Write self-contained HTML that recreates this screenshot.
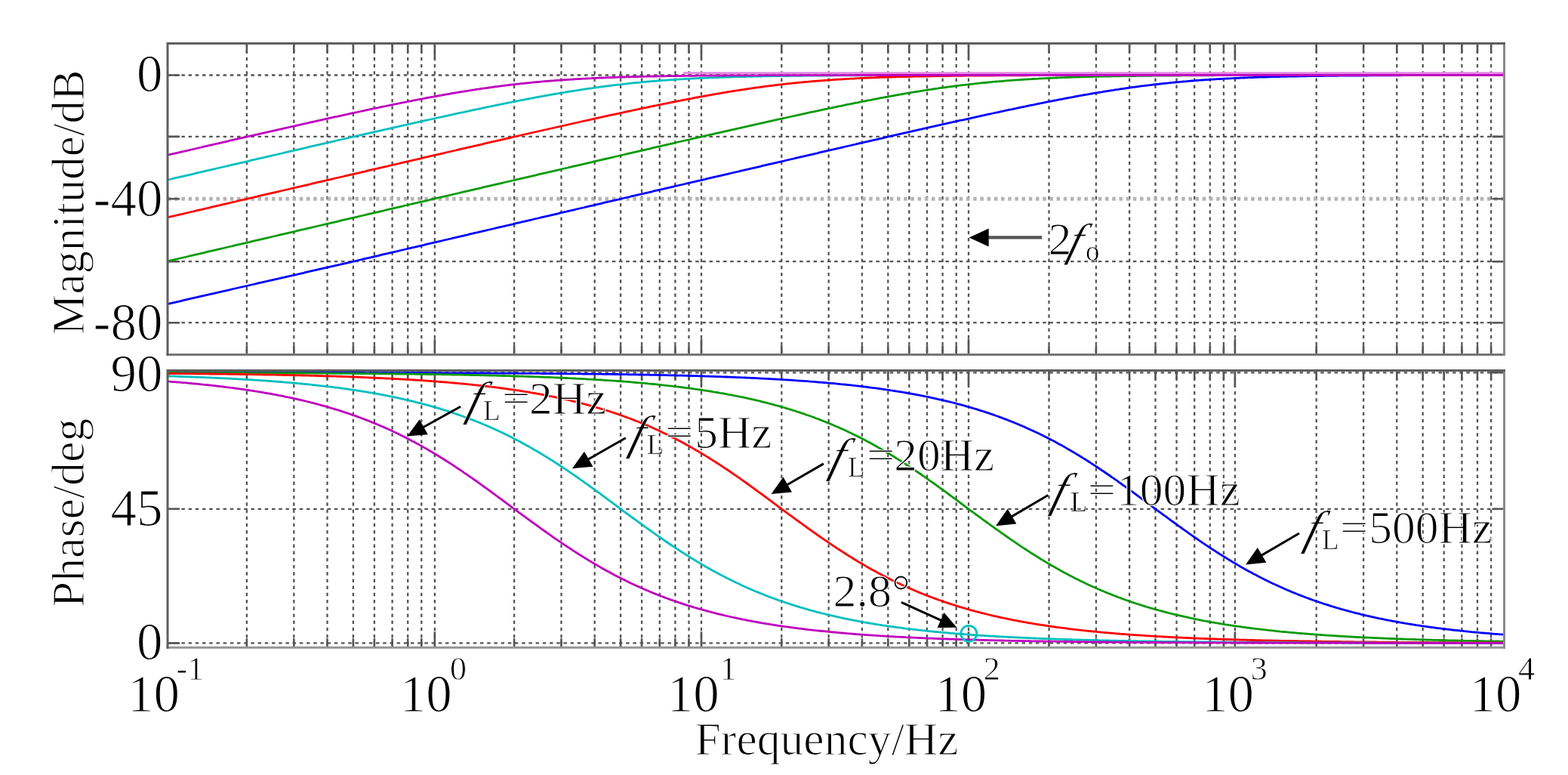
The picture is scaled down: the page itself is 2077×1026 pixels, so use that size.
<!DOCTYPE html><html><head><meta charset="utf-8"><style>html,body{margin:0;padding:0;background:#fff;}svg{display:block}text{font-family:"Liberation Serif","Times New Roman",serif;fill:#000;stroke:#fff;stroke-width:1.2px}</style></head><body>
<svg width="2077" height="1026" viewBox="0 0 2077 1026">
<rect x="0" y="0" width="2077" height="1026" fill="#fff"/>
<path d="M326.9 57.4V469.4 M389.3 57.4V469.4 M433.5 57.4V469.4 M467.9 57.4V469.4 M495.9 57.4V469.4 M519.6 57.4V469.4 M540.2 57.4V469.4 M558.3 57.4V469.4 M575.9 57.4V469.4 M681.1 57.4V469.4 M743.5 57.4V469.4 M787.7 57.4V469.4 M822.1 57.4V469.4 M850.1 57.4V469.4 M873.8 57.4V469.4 M894.4 57.4V469.4 M912.5 57.4V469.4 M929.0 57.4V469.4 M1035.3 57.4V469.4 M1097.7 57.4V469.4 M1141.9 57.4V469.4 M1176.3 57.4V469.4 M1204.3 57.4V469.4 M1228.0 57.4V469.4 M1248.6 57.4V469.4 M1266.7 57.4V469.4 M1283.0 57.4V469.4 M1389.5 57.4V469.4 M1451.9 57.4V469.4 M1496.1 57.4V469.4 M1530.5 57.4V469.4 M1558.5 57.4V469.4 M1582.2 57.4V469.4 M1602.8 57.4V469.4 M1620.9 57.4V469.4 M1635.9 57.4V469.4 M1743.7 57.4V469.4 M1806.1 57.4V469.4 M1850.3 57.4V469.4 M1884.7 57.4V469.4 M1912.7 57.4V469.4 M1936.4 57.4V469.4 M1957.0 57.4V469.4 M1975.1 57.4V469.4 M222.0 99.5H1992.5 M222.0 180.9H1992.5 M222.0 346.2H1992.5 M222.0 427.2H1992.5" stroke="#555" stroke-width="2.3" stroke-dasharray="4.5 4.7" fill="none"/>
<path d="M222.0 263.3H1992.5" stroke="#b4b4b4" stroke-width="5" stroke-dasharray="4.5 4.7" fill="none"/>
<path d="M326.9 57.4v12M326.9 469.4v-12M389.3 57.4v12M389.3 469.4v-12M433.5 57.4v12M433.5 469.4v-12M467.9 57.4v12M467.9 469.4v-12M495.9 57.4v12M495.9 469.4v-12M519.6 57.4v12M519.6 469.4v-12M540.2 57.4v12M540.2 469.4v-12M558.3 57.4v12M558.3 469.4v-12M575.9 57.4v21M575.9 469.4v-21M681.1 57.4v12M681.1 469.4v-12M743.5 57.4v12M743.5 469.4v-12M787.7 57.4v12M787.7 469.4v-12M822.1 57.4v12M822.1 469.4v-12M850.1 57.4v12M850.1 469.4v-12M873.8 57.4v12M873.8 469.4v-12M894.4 57.4v12M894.4 469.4v-12M912.5 57.4v12M912.5 469.4v-12M929.0 57.4v21M929.0 469.4v-21M1035.3 57.4v12M1035.3 469.4v-12M1097.7 57.4v12M1097.7 469.4v-12M1141.9 57.4v12M1141.9 469.4v-12M1176.3 57.4v12M1176.3 469.4v-12M1204.3 57.4v12M1204.3 469.4v-12M1228.0 57.4v12M1228.0 469.4v-12M1248.6 57.4v12M1248.6 469.4v-12M1266.7 57.4v12M1266.7 469.4v-12M1283.0 57.4v21M1283.0 469.4v-21M1389.5 57.4v12M1389.5 469.4v-12M1451.9 57.4v12M1451.9 469.4v-12M1496.1 57.4v12M1496.1 469.4v-12M1530.5 57.4v12M1530.5 469.4v-12M1558.5 57.4v12M1558.5 469.4v-12M1582.2 57.4v12M1582.2 469.4v-12M1602.8 57.4v12M1602.8 469.4v-12M1620.9 57.4v12M1620.9 469.4v-12M1635.9 57.4v21M1635.9 469.4v-21M1743.7 57.4v12M1743.7 469.4v-12M1806.1 57.4v12M1806.1 469.4v-12M1850.3 57.4v12M1850.3 469.4v-12M1884.7 57.4v12M1884.7 469.4v-12M1912.7 57.4v12M1912.7 469.4v-12M1936.4 57.4v12M1936.4 469.4v-12M1957.0 57.4v12M1957.0 469.4v-12M1975.1 57.4v12M1975.1 469.4v-12M222.0 99.5h16M1992.5 99.5h-16M222.0 180.9h16M1992.5 180.9h-16M222.0 263.3h16M1992.5 263.3h-16M222.0 346.2h16M1992.5 346.2h-16M222.0 427.2h16M1992.5 427.2h-16" stroke="#555" stroke-width="2.6" fill="none"/>
<path d="M326.9 490.4V857.2 M389.3 490.4V857.2 M433.5 490.4V857.2 M467.9 490.4V857.2 M495.9 490.4V857.2 M519.6 490.4V857.2 M540.2 490.4V857.2 M558.3 490.4V857.2 M575.9 490.4V857.2 M681.1 490.4V857.2 M743.5 490.4V857.2 M787.7 490.4V857.2 M822.1 490.4V857.2 M850.1 490.4V857.2 M873.8 490.4V857.2 M894.4 490.4V857.2 M912.5 490.4V857.2 M929.0 490.4V857.2 M1035.3 490.4V857.2 M1097.7 490.4V857.2 M1141.9 490.4V857.2 M1176.3 490.4V857.2 M1204.3 490.4V857.2 M1228.0 490.4V857.2 M1248.6 490.4V857.2 M1266.7 490.4V857.2 M1283.0 490.4V857.2 M1389.5 490.4V857.2 M1451.9 490.4V857.2 M1496.1 490.4V857.2 M1530.5 490.4V857.2 M1558.5 490.4V857.2 M1582.2 490.4V857.2 M1602.8 490.4V857.2 M1620.9 490.4V857.2 M1635.9 490.4V857.2 M1743.7 490.4V857.2 M1806.1 490.4V857.2 M1850.3 490.4V857.2 M1884.7 490.4V857.2 M1912.7 490.4V857.2 M1936.4 490.4V857.2 M1957.0 490.4V857.2 M1975.1 490.4V857.2 M222.0 851.4H1992.5 M222.0 673.8H1992.5 M222.0 493.3H1992.5" stroke="#555" stroke-width="2.3" stroke-dasharray="4.5 4.7" fill="none"/>
<path d="M326.9 490.4v12M326.9 857.2v-12M389.3 490.4v12M389.3 857.2v-12M433.5 490.4v12M433.5 857.2v-12M467.9 490.4v12M467.9 857.2v-12M495.9 490.4v12M495.9 857.2v-12M519.6 490.4v12M519.6 857.2v-12M540.2 490.4v12M540.2 857.2v-12M558.3 490.4v12M558.3 857.2v-12M575.9 490.4v21M575.9 857.2v-21M681.1 490.4v12M681.1 857.2v-12M743.5 490.4v12M743.5 857.2v-12M787.7 490.4v12M787.7 857.2v-12M822.1 490.4v12M822.1 857.2v-12M850.1 490.4v12M850.1 857.2v-12M873.8 490.4v12M873.8 857.2v-12M894.4 490.4v12M894.4 857.2v-12M912.5 490.4v12M912.5 857.2v-12M929.0 490.4v21M929.0 857.2v-21M1035.3 490.4v12M1035.3 857.2v-12M1097.7 490.4v12M1097.7 857.2v-12M1141.9 490.4v12M1141.9 857.2v-12M1176.3 490.4v12M1176.3 857.2v-12M1204.3 490.4v12M1204.3 857.2v-12M1228.0 490.4v12M1228.0 857.2v-12M1248.6 490.4v12M1248.6 857.2v-12M1266.7 490.4v12M1266.7 857.2v-12M1283.0 490.4v21M1283.0 857.2v-21M1389.5 490.4v12M1389.5 857.2v-12M1451.9 490.4v12M1451.9 857.2v-12M1496.1 490.4v12M1496.1 857.2v-12M1530.5 490.4v12M1530.5 857.2v-12M1558.5 490.4v12M1558.5 857.2v-12M1582.2 490.4v12M1582.2 857.2v-12M1602.8 490.4v12M1602.8 857.2v-12M1620.9 490.4v12M1620.9 857.2v-12M1635.9 490.4v21M1635.9 857.2v-21M1743.7 490.4v12M1743.7 857.2v-12M1806.1 490.4v12M1806.1 857.2v-12M1850.3 490.4v12M1850.3 857.2v-12M1884.7 490.4v12M1884.7 857.2v-12M1912.7 490.4v12M1912.7 857.2v-12M1936.4 490.4v12M1936.4 857.2v-12M1957.0 490.4v12M1957.0 857.2v-12M1975.1 490.4v12M1975.1 857.2v-12M222.0 851.4h16M1992.5 851.4h-16M222.0 673.8h16M1992.5 673.8h-16M222.0 493.3h16M1992.5 493.3h-16" stroke="#555" stroke-width="2.6" fill="none"/>
<clipPath id="ctop"><rect x="222.0" y="57.4" width="1770.5" height="412.0"/></clipPath>
<clipPath id="cbot"><rect x="222.0" y="490.4" width="1770.5" height="366.80000000000007"/></clipPath>
<path d="M220.3,402.8 222.5,402.3 224.7,401.8 226.9,401.3 229.2,400.8 231.4,400.3 233.6,399.8 235.8,399.3 238.0,398.8 240.2,398.3 242.5,397.7 244.7,397.2 246.9,396.7 249.1,396.2 251.3,395.7 253.5,395.2 255.8,394.7 258.0,394.2 260.2,393.7 262.4,393.2 264.6,392.7 266.8,392.2 269.1,391.7 271.3,391.2 273.5,390.7 275.7,390.1 277.9,389.6 280.1,389.1 282.4,388.6 284.6,388.1 286.8,387.6 289.0,387.1 291.2,386.6 293.4,386.1 295.7,385.6 297.9,385.1 300.1,384.6 302.3,384.1 304.5,383.6 306.7,383.0 309.0,382.5 311.2,382.0 313.4,381.5 315.6,381.0 317.8,380.5 320.0,380.0 322.3,379.5 324.5,379.0 326.7,378.5 328.9,378.0 331.1,377.5 333.3,377.0 335.6,376.5 337.8,376.0 340.0,375.4 342.2,374.9 344.4,374.4 346.6,373.9 348.9,373.4 351.1,372.9 353.3,372.4 355.5,371.9 357.7,371.4 359.9,370.9 362.2,370.4 364.4,369.9 366.6,369.4 368.8,368.9 371.0,368.3 373.2,367.8 375.5,367.3 377.7,366.8 379.9,366.3 382.1,365.8 384.3,365.3 386.5,364.8 388.8,364.3 391.0,363.8 393.2,363.3 395.4,362.8 397.6,362.3 399.8,361.8 402.1,361.3 404.3,360.7 406.5,360.2 408.7,359.7 410.9,359.2 413.1,358.7 415.4,358.2 417.6,357.7 419.8,357.2 422.0,356.7 424.2,356.2 426.4,355.7 428.7,355.2 430.9,354.7 433.1,354.2 435.3,353.6 437.5,353.1 439.7,352.6 442.0,352.1 444.2,351.6 446.4,351.1 448.6,350.6 450.8,350.1 453.0,349.6 455.3,349.1 457.5,348.6 459.7,348.1 461.9,347.6 464.1,347.1 466.3,346.6 468.6,346.0 470.8,345.5 473.0,345.0 475.2,344.5 477.4,344.0 479.6,343.4 481.8,342.9 484.1,342.4 486.3,341.9 488.5,341.4 490.7,340.9 492.9,340.3 495.1,339.8 497.4,339.3 499.6,338.8 501.8,338.3 504.0,337.7 506.2,337.2 508.4,336.7 510.7,336.2 512.9,335.7 515.1,335.1 517.3,334.6 519.5,334.1 521.7,333.6 524.0,333.1 526.2,332.6 528.4,332.0 530.6,331.5 532.8,331.0 535.0,330.5 537.3,330.0 539.5,329.4 541.7,328.9 543.9,328.4 546.1,327.9 548.3,327.4 550.6,326.8 552.8,326.3 555.0,325.8 557.2,325.3 559.4,324.8 561.6,324.3 563.9,323.7 566.1,323.2 568.3,322.7 570.5,322.2 572.7,321.7 574.9,321.1 577.2,320.6 579.4,320.1 581.6,319.6 583.8,319.1 586.0,318.5 588.2,318.0 590.5,317.5 592.7,317.0 594.9,316.5 597.1,316.0 599.3,315.4 601.5,314.9 603.8,314.4 606.0,313.9 608.2,313.4 610.4,312.8 612.6,312.3 614.8,311.8 617.1,311.3 619.3,310.8 621.5,310.2 623.7,309.7 625.9,309.2 628.1,308.7 630.4,308.2 632.6,307.7 634.8,307.1 637.0,306.6 639.2,306.1 641.4,305.6 643.7,305.1 645.9,304.5 648.1,304.0 650.3,303.5 652.5,303.0 654.7,302.5 657.0,301.9 659.2,301.4 661.4,300.9 663.6,300.4 665.8,299.9 668.0,299.4 670.3,298.8 672.5,298.3 674.7,297.8 676.9,297.3 679.1,296.8 681.3,296.2 683.6,295.7 685.8,295.2 688.0,294.7 690.2,294.2 692.4,293.6 694.6,293.1 696.9,292.6 699.1,292.1 701.3,291.6 703.5,291.1 705.7,290.5 707.9,290.0 710.2,289.5 712.4,289.0 714.6,288.5 716.8,287.9 719.0,287.4 721.2,286.9 723.5,286.4 725.7,285.9 727.9,285.3 730.1,284.8 732.3,284.3 734.5,283.8 736.7,283.3 739.0,282.8 741.2,282.2 743.4,281.7 745.6,281.2 747.8,280.7 750.0,280.2 752.3,279.6 754.5,279.1 756.7,278.6 758.9,278.1 761.1,277.6 763.3,277.0 765.6,276.5 767.8,276.0 770.0,275.5 772.2,275.0 774.4,274.5 776.6,273.9 778.9,273.4 781.1,272.9 783.3,272.4 785.5,271.9 787.7,271.3 789.9,270.8 792.2,270.3 794.4,269.8 796.6,269.3 798.8,268.7 801.0,268.2 803.2,267.7 805.5,267.2 807.7,266.7 809.9,266.2 812.1,265.6 814.3,265.1 816.5,264.6 818.8,264.1 821.0,263.6 823.2,263.0 825.4,262.5 827.6,262.0 829.8,261.5 832.1,261.0 834.3,260.5 836.5,259.9 838.7,259.4 840.9,258.9 843.1,258.4 845.4,257.9 847.6,257.4 849.8,256.9 852.0,256.3 854.2,255.8 856.4,255.3 858.7,254.8 860.9,254.3 863.1,253.8 865.3,253.2 867.5,252.7 869.7,252.2 872.0,251.7 874.2,251.2 876.4,250.7 878.6,250.2 880.8,249.6 883.0,249.1 885.3,248.6 887.5,248.1 889.7,247.6 891.9,247.1 894.1,246.5 896.3,246.0 898.6,245.5 900.8,245.0 903.0,244.5 905.2,244.0 907.4,243.5 909.6,242.9 911.9,242.4 914.1,241.9 916.3,241.4 918.5,240.9 920.7,240.4 922.9,239.8 925.2,239.3 927.4,238.8 929.6,238.3 931.8,237.8 934.0,237.3 936.2,236.7 938.5,236.2 940.7,235.7 942.9,235.2 945.1,234.7 947.3,234.2 949.5,233.7 951.8,233.1 954.0,232.6 956.2,232.1 958.4,231.6 960.6,231.1 962.8,230.6 965.1,230.1 967.3,229.5 969.5,229.0 971.7,228.5 973.9,228.0 976.1,227.5 978.4,227.0 980.6,226.4 982.8,225.9 985.0,225.4 987.2,224.9 989.4,224.4 991.6,223.9 993.9,223.4 996.1,222.8 998.3,222.3 1000.5,221.8 1002.7,221.3 1004.9,220.8 1007.2,220.3 1009.4,219.7 1011.6,219.2 1013.8,218.7 1016.0,218.2 1018.2,217.7 1020.5,217.2 1022.7,216.7 1024.9,216.1 1027.1,215.6 1029.3,215.1 1031.5,214.6 1033.8,214.1 1036.0,213.6 1038.2,213.1 1040.4,212.5 1042.6,212.0 1044.8,211.5 1047.1,211.0 1049.3,210.5 1051.5,210.0 1053.7,209.4 1055.9,208.9 1058.1,208.4 1060.4,207.9 1062.6,207.4 1064.8,206.9 1067.0,206.4 1069.2,205.8 1071.4,205.3 1073.7,204.8 1075.9,204.3 1078.1,203.8 1080.3,203.3 1082.5,202.8 1084.7,202.2 1087.0,201.7 1089.2,201.2 1091.4,200.7 1093.6,200.2 1095.8,199.7 1098.0,199.2 1100.3,198.7 1102.5,198.1 1104.7,197.6 1106.9,197.1 1109.1,196.6 1111.3,196.1 1113.6,195.6 1115.8,195.1 1118.0,194.5 1120.2,194.0 1122.4,193.5 1124.6,193.0 1126.9,192.5 1129.1,192.0 1131.3,191.5 1133.5,191.0 1135.7,190.4 1137.9,189.9 1140.2,189.4 1142.4,188.9 1144.6,188.4 1146.8,187.9 1149.0,187.4 1151.2,186.9 1153.5,186.3 1155.7,185.8 1157.9,185.3 1160.1,184.8 1162.3,184.3 1164.5,183.8 1166.8,183.3 1169.0,182.8 1171.2,182.3 1173.4,181.7 1175.6,181.2 1177.8,180.7 1180.1,180.2 1182.3,179.7 1184.5,179.2 1186.7,178.7 1188.9,178.2 1191.1,177.7 1193.4,177.2 1195.6,176.7 1197.8,176.2 1200.0,175.7 1202.2,175.2 1204.4,174.7 1206.7,174.2 1208.9,173.7 1211.1,173.2 1213.3,172.7 1215.5,172.2 1217.7,171.7 1220.0,171.2 1222.2,170.7 1224.4,170.2 1226.6,169.7 1228.8,169.2 1231.0,168.7 1233.2,168.2 1235.5,167.7 1237.7,167.2 1239.9,166.7 1242.1,166.2 1244.3,165.7 1246.5,165.2 1248.8,164.7 1251.0,164.2 1253.2,163.7 1255.4,163.2 1257.6,162.7 1259.8,162.2 1262.1,161.7 1264.3,161.2 1266.5,160.7 1268.7,160.2 1270.9,159.7 1273.1,159.2 1275.4,158.8 1277.6,158.3 1279.8,157.8 1282.0,157.3 1284.2,156.8 1286.4,156.3 1288.7,155.8 1290.9,155.3 1293.1,154.8 1295.3,154.4 1297.5,153.9 1299.7,153.4 1302.0,152.9 1304.2,152.4 1306.4,151.9 1308.6,151.4 1310.8,151.0 1313.0,150.5 1315.3,150.0 1317.5,149.5 1319.7,149.0 1321.9,148.6 1324.1,148.1 1326.3,147.6 1328.6,147.1 1330.8,146.7 1333.0,146.2 1335.2,145.7 1337.4,145.2 1339.6,144.8 1341.9,144.3 1344.1,143.8 1346.3,143.4 1348.5,142.9 1350.7,142.4 1352.9,142.0 1355.2,141.5 1357.4,141.1 1359.6,140.6 1361.8,140.1 1364.0,139.7 1366.2,139.2 1368.5,138.8 1370.7,138.3 1372.9,137.9 1375.1,137.4 1377.3,137.0 1379.5,136.5 1381.8,136.1 1384.0,135.6 1386.2,135.2 1388.4,134.7 1390.6,134.3 1392.8,133.9 1395.1,133.4 1397.3,133.0 1399.5,132.6 1401.7,132.1 1403.9,131.7 1406.1,131.3 1408.4,130.9 1410.6,130.4 1412.8,130.0 1415.0,129.6 1417.2,129.2 1419.4,128.8 1421.7,128.4 1423.9,127.9 1426.1,127.5 1428.3,127.1 1430.5,126.7 1432.7,126.3 1435.0,125.9 1437.2,125.5 1439.4,125.2 1441.6,124.8 1443.8,124.4 1446.0,124.0 1448.3,123.6 1450.5,123.2 1452.7,122.9 1454.9,122.5 1457.1,122.1 1459.3,121.8 1461.6,121.4 1463.8,121.0 1466.0,120.7 1468.2,120.3 1470.4,120.0 1472.6,119.6 1474.9,119.3 1477.1,118.9 1479.3,118.6 1481.5,118.3 1483.7,117.9 1485.9,117.6 1488.1,117.3 1490.4,117.0 1492.6,116.6 1494.8,116.3 1497.0,116.0 1499.2,115.7 1501.4,115.4 1503.7,115.1 1505.9,114.8 1508.1,114.5 1510.3,114.2 1512.5,113.9 1514.7,113.7 1517.0,113.4 1519.2,113.1 1521.4,112.8 1523.6,112.6 1525.8,112.3 1528.0,112.0 1530.3,111.8 1532.5,111.5 1534.7,111.3 1536.9,111.0 1539.1,110.8 1541.3,110.5 1543.6,110.3 1545.8,110.1 1548.0,109.9 1550.2,109.6 1552.4,109.4 1554.6,109.2 1556.9,109.0 1559.1,108.8 1561.3,108.6 1563.5,108.4 1565.7,108.2 1567.9,108.0 1570.2,107.8 1572.4,107.6 1574.6,107.4 1576.8,107.2 1579.0,107.0 1581.2,106.9 1583.5,106.7 1585.7,106.5 1587.9,106.4 1590.1,106.2 1592.3,106.0 1594.5,105.9 1596.8,105.7 1599.0,105.6 1601.2,105.4 1603.4,105.3 1605.6,105.1 1607.8,105.0 1610.1,104.9 1612.3,104.7 1614.5,104.6 1616.7,104.5 1618.9,104.4 1621.1,104.2 1623.4,104.1 1625.6,104.0 1627.8,103.9 1630.0,103.8 1632.2,103.7 1634.4,103.6 1636.7,103.5 1638.9,103.4 1641.1,103.3 1643.3,103.2 1645.5,103.1 1647.7,103.0 1650.0,102.9 1652.2,102.8 1654.4,102.7 1656.6,102.6 1658.8,102.6 1661.0,102.5 1663.3,102.4 1665.5,102.3 1667.7,102.2 1669.9,102.2 1672.1,102.1 1674.3,102.0 1676.6,102.0 1678.8,101.9 1681.0,101.8 1683.2,101.8 1685.4,101.7 1687.6,101.7 1689.9,101.6 1692.1,101.5 1694.3,101.5 1696.5,101.4 1698.7,101.4 1700.9,101.3 1703.2,101.3 1705.4,101.2 1707.6,101.2 1709.8,101.1 1712.0,101.1 1714.2,101.1 1716.5,101.0 1718.7,101.0 1720.9,100.9 1723.1,100.9 1725.3,100.9 1727.5,100.8 1729.8,100.8 1732.0,100.7 1734.2,100.7 1736.4,100.7 1738.6,100.6 1740.8,100.6 1743.0,100.6 1745.3,100.6 1747.5,100.5 1749.7,100.5 1751.9,100.5 1754.1,100.4 1756.3,100.4 1758.6,100.4 1760.8,100.4 1763.0,100.3 1765.2,100.3 1767.4,100.3 1769.6,100.3 1771.9,100.3 1774.1,100.2 1776.3,100.2 1778.5,100.2 1780.7,100.2 1782.9,100.2 1785.2,100.1 1787.4,100.1 1789.6,100.1 1791.8,100.1 1794.0,100.1 1796.2,100.0 1798.5,100.0 1800.7,100.0 1802.9,100.0 1805.1,100.0 1807.3,100.0 1809.5,100.0 1811.8,100.0 1814.0,99.9 1816.2,99.9 1818.4,99.9 1820.6,99.9 1822.8,99.9 1825.1,99.9 1827.3,99.9 1829.5,99.9 1831.7,99.8 1833.9,99.8 1836.1,99.8 1838.4,99.8 1840.6,99.8 1842.8,99.8 1845.0,99.8 1847.2,99.8 1849.4,99.8 1851.7,99.8 1853.9,99.8 1856.1,99.8 1858.3,99.7 1860.5,99.7 1862.7,99.7 1865.0,99.7 1867.2,99.7 1869.4,99.7 1871.6,99.7 1873.8,99.7 1876.0,99.7 1878.3,99.7 1880.5,99.7 1882.7,99.7 1884.9,99.7 1887.1,99.7 1889.3,99.7 1891.6,99.7 1893.8,99.7 1896.0,99.7 1898.2,99.6 1900.4,99.6 1902.6,99.6 1904.9,99.6 1907.1,99.6 1909.3,99.6 1911.5,99.6 1913.7,99.6 1915.9,99.6 1918.2,99.6 1920.4,99.6 1922.6,99.6 1924.8,99.6 1927.0,99.6 1929.2,99.6 1931.5,99.6 1933.7,99.6 1935.9,99.6 1938.1,99.6 1940.3,99.6 1942.5,99.6 1944.8,99.6 1947.0,99.6 1949.2,99.6 1951.4,99.6 1953.6,99.6 1955.8,99.6 1958.1,99.6 1960.3,99.6 1962.5,99.6 1964.7,99.6 1966.9,99.6 1969.1,99.6 1971.4,99.6 1973.6,99.6 1975.8,99.6 1978.0,99.6 1980.2,99.6 1982.4,99.5 1984.7,99.5 1986.9,99.5 1989.1,99.5 1991.3,99.5" stroke="#0000ff" stroke-width="2.8" fill="none" stroke-linejoin="round" clip-path="url(#ctop)"/>
<path d="M220.3,493.3 222.5,493.3 224.7,493.3 226.9,493.3 229.2,493.3 231.4,493.3 233.6,493.4 235.8,493.4 238.0,493.4 240.2,493.4 242.5,493.4 244.7,493.4 246.9,493.4 249.1,493.4 251.3,493.4 253.5,493.4 255.8,493.4 258.0,493.4 260.2,493.4 262.4,493.4 264.6,493.4 266.8,493.4 269.1,493.4 271.3,493.4 273.5,493.4 275.7,493.4 277.9,493.4 280.1,493.4 282.4,493.4 284.6,493.4 286.8,493.4 289.0,493.4 291.2,493.4 293.4,493.4 295.7,493.4 297.9,493.4 300.1,493.4 302.3,493.4 304.5,493.4 306.7,493.4 309.0,493.4 311.2,493.4 313.4,493.4 315.6,493.4 317.8,493.4 320.0,493.4 322.3,493.4 324.5,493.4 326.7,493.4 328.9,493.4 331.1,493.4 333.3,493.4 335.6,493.4 337.8,493.4 340.0,493.4 342.2,493.4 344.4,493.4 346.6,493.4 348.9,493.4 351.1,493.4 353.3,493.4 355.5,493.4 357.7,493.4 359.9,493.4 362.2,493.4 364.4,493.4 366.6,493.4 368.8,493.4 371.0,493.4 373.2,493.4 375.5,493.4 377.7,493.4 379.9,493.4 382.1,493.4 384.3,493.4 386.5,493.4 388.8,493.4 391.0,493.4 393.2,493.4 395.4,493.4 397.6,493.4 399.8,493.4 402.1,493.4 404.3,493.5 406.5,493.5 408.7,493.5 410.9,493.5 413.1,493.5 415.4,493.5 417.6,493.5 419.8,493.5 422.0,493.5 424.2,493.5 426.4,493.5 428.7,493.5 430.9,493.5 433.1,493.5 435.3,493.5 437.5,493.5 439.7,493.5 442.0,493.5 444.2,493.5 446.4,493.5 448.6,493.5 450.8,493.5 453.0,493.5 455.3,493.5 457.5,493.5 459.7,493.5 461.9,493.5 464.1,493.5 466.3,493.5 468.6,493.5 470.8,493.5 473.0,493.5 475.2,493.5 477.4,493.5 479.6,493.5 481.8,493.6 484.1,493.6 486.3,493.6 488.5,493.6 490.7,493.6 492.9,493.6 495.1,493.6 497.4,493.6 499.6,493.6 501.8,493.6 504.0,493.6 506.2,493.6 508.4,493.6 510.7,493.6 512.9,493.6 515.1,493.6 517.3,493.6 519.5,493.6 521.7,493.6 524.0,493.6 526.2,493.6 528.4,493.6 530.6,493.6 532.8,493.7 535.0,493.7 537.3,493.7 539.5,493.7 541.7,493.7 543.9,493.7 546.1,493.7 548.3,493.7 550.6,493.7 552.8,493.7 555.0,493.7 557.2,493.7 559.4,493.7 561.6,493.7 563.9,493.7 566.1,493.7 568.3,493.7 570.5,493.7 572.7,493.8 574.9,493.8 577.2,493.8 579.4,493.8 581.6,493.8 583.8,493.8 586.0,493.8 588.2,493.8 590.5,493.8 592.7,493.8 594.9,493.8 597.1,493.8 599.3,493.8 601.5,493.8 603.8,493.9 606.0,493.9 608.2,493.9 610.4,493.9 612.6,493.9 614.8,493.9 617.1,493.9 619.3,493.9 621.5,493.9 623.7,493.9 625.9,493.9 628.1,494.0 630.4,494.0 632.6,494.0 634.8,494.0 637.0,494.0 639.2,494.0 641.4,494.0 643.7,494.0 645.9,494.0 648.1,494.0 650.3,494.1 652.5,494.1 654.7,494.1 657.0,494.1 659.2,494.1 661.4,494.1 663.6,494.1 665.8,494.1 668.0,494.1 670.3,494.2 672.5,494.2 674.7,494.2 676.9,494.2 679.1,494.2 681.3,494.2 683.6,494.2 685.8,494.2 688.0,494.3 690.2,494.3 692.4,494.3 694.6,494.3 696.9,494.3 699.1,494.3 701.3,494.3 703.5,494.4 705.7,494.4 707.9,494.4 710.2,494.4 712.4,494.4 714.6,494.4 716.8,494.5 719.0,494.5 721.2,494.5 723.5,494.5 725.7,494.5 727.9,494.5 730.1,494.6 732.3,494.6 734.5,494.6 736.7,494.6 739.0,494.6 741.2,494.7 743.4,494.7 745.6,494.7 747.8,494.7 750.0,494.7 752.3,494.8 754.5,494.8 756.7,494.8 758.9,494.8 761.1,494.8 763.3,494.9 765.6,494.9 767.8,494.9 770.0,494.9 772.2,495.0 774.4,495.0 776.6,495.0 778.9,495.0 781.1,495.1 783.3,495.1 785.5,495.1 787.7,495.1 789.9,495.2 792.2,495.2 794.4,495.2 796.6,495.2 798.8,495.3 801.0,495.3 803.2,495.3 805.5,495.4 807.7,495.4 809.9,495.4 812.1,495.5 814.3,495.5 816.5,495.5 818.8,495.5 821.0,495.6 823.2,495.6 825.4,495.6 827.6,495.7 829.8,495.7 832.1,495.8 834.3,495.8 836.5,495.8 838.7,495.9 840.9,495.9 843.1,495.9 845.4,496.0 847.6,496.0 849.8,496.1 852.0,496.1 854.2,496.1 856.4,496.2 858.7,496.2 860.9,496.3 863.1,496.3 865.3,496.3 867.5,496.4 869.7,496.4 872.0,496.5 874.2,496.5 876.4,496.6 878.6,496.6 880.8,496.7 883.0,496.7 885.3,496.8 887.5,496.8 889.7,496.9 891.9,496.9 894.1,497.0 896.3,497.0 898.6,497.1 900.8,497.1 903.0,497.2 905.2,497.2 907.4,497.3 909.6,497.4 911.9,497.4 914.1,497.5 916.3,497.5 918.5,497.6 920.7,497.7 922.9,497.7 925.2,497.8 927.4,497.9 929.6,497.9 931.8,498.0 934.0,498.1 936.2,498.1 938.5,498.2 940.7,498.3 942.9,498.3 945.1,498.4 947.3,498.5 949.5,498.6 951.8,498.6 954.0,498.7 956.2,498.8 958.4,498.9 960.6,499.0 962.8,499.0 965.1,499.1 967.3,499.2 969.5,499.3 971.7,499.4 973.9,499.5 976.1,499.6 978.4,499.6 980.6,499.7 982.8,499.8 985.0,499.9 987.2,500.0 989.4,500.1 991.6,500.2 993.9,500.3 996.1,500.4 998.3,500.5 1000.5,500.6 1002.7,500.7 1004.9,500.8 1007.2,501.0 1009.4,501.1 1011.6,501.2 1013.8,501.3 1016.0,501.4 1018.2,501.5 1020.5,501.6 1022.7,501.8 1024.9,501.9 1027.1,502.0 1029.3,502.1 1031.5,502.3 1033.8,502.4 1036.0,502.5 1038.2,502.7 1040.4,502.8 1042.6,502.9 1044.8,503.1 1047.1,503.2 1049.3,503.4 1051.5,503.5 1053.7,503.7 1055.9,503.8 1058.1,504.0 1060.4,504.1 1062.6,504.3 1064.8,504.4 1067.0,504.6 1069.2,504.7 1071.4,504.9 1073.7,505.1 1075.9,505.3 1078.1,505.4 1080.3,505.6 1082.5,505.8 1084.7,506.0 1087.0,506.1 1089.2,506.3 1091.4,506.5 1093.6,506.7 1095.8,506.9 1098.0,507.1 1100.3,507.3 1102.5,507.5 1104.7,507.7 1106.9,507.9 1109.1,508.1 1111.3,508.3 1113.6,508.6 1115.8,508.8 1118.0,509.0 1120.2,509.2 1122.4,509.5 1124.6,509.7 1126.9,509.9 1129.1,510.2 1131.3,510.4 1133.5,510.7 1135.7,510.9 1137.9,511.2 1140.2,511.4 1142.4,511.7 1144.6,512.0 1146.8,512.2 1149.0,512.5 1151.2,512.8 1153.5,513.1 1155.7,513.4 1157.9,513.6 1160.1,513.9 1162.3,514.2 1164.5,514.5 1166.8,514.8 1169.0,515.2 1171.2,515.5 1173.4,515.8 1175.6,516.1 1177.8,516.4 1180.1,516.8 1182.3,517.1 1184.5,517.5 1186.7,517.8 1188.9,518.2 1191.1,518.5 1193.4,518.9 1195.6,519.2 1197.8,519.6 1200.0,520.0 1202.2,520.4 1204.4,520.8 1206.7,521.2 1208.9,521.6 1211.1,522.0 1213.3,522.4 1215.5,522.8 1217.7,523.2 1220.0,523.7 1222.2,524.1 1224.4,524.5 1226.6,525.0 1228.8,525.4 1231.0,525.9 1233.2,526.4 1235.5,526.8 1237.7,527.3 1239.9,527.8 1242.1,528.3 1244.3,528.8 1246.5,529.3 1248.8,529.8 1251.0,530.3 1253.2,530.9 1255.4,531.4 1257.6,531.9 1259.8,532.5 1262.1,533.0 1264.3,533.6 1266.5,534.2 1268.7,534.8 1270.9,535.3 1273.1,535.9 1275.4,536.5 1277.6,537.2 1279.8,537.8 1282.0,538.4 1284.2,539.0 1286.4,539.7 1288.7,540.4 1290.9,541.0 1293.1,541.7 1295.3,542.4 1297.5,543.1 1299.7,543.8 1302.0,544.5 1304.2,545.2 1306.4,545.9 1308.6,546.6 1310.8,547.4 1313.0,548.1 1315.3,548.9 1317.5,549.7 1319.7,550.5 1321.9,551.3 1324.1,552.1 1326.3,552.9 1328.6,553.7 1330.8,554.6 1333.0,555.4 1335.2,556.3 1337.4,557.1 1339.6,558.0 1341.9,558.9 1344.1,559.8 1346.3,560.7 1348.5,561.6 1350.7,562.6 1352.9,563.5 1355.2,564.5 1357.4,565.4 1359.6,566.4 1361.8,567.4 1364.0,568.4 1366.2,569.4 1368.5,570.4 1370.7,571.5 1372.9,572.5 1375.1,573.6 1377.3,574.6 1379.5,575.7 1381.8,576.8 1384.0,577.9 1386.2,579.0 1388.4,580.2 1390.6,581.3 1392.8,582.5 1395.1,583.6 1397.3,584.8 1399.5,586.0 1401.7,587.2 1403.9,588.4 1406.1,589.6 1408.4,590.9 1410.6,592.1 1412.8,593.4 1415.0,594.7 1417.2,595.9 1419.4,597.2 1421.7,598.5 1423.9,599.9 1426.1,601.2 1428.3,602.5 1430.5,603.9 1432.7,605.3 1435.0,606.6 1437.2,608.0 1439.4,609.4 1441.6,610.8 1443.8,612.2 1446.0,613.7 1448.3,615.1 1450.5,616.6 1452.7,618.0 1454.9,619.5 1457.1,621.0 1459.3,622.5 1461.6,624.0 1463.8,625.5 1466.0,627.0 1468.2,628.5 1470.4,630.0 1472.6,631.6 1474.9,633.1 1477.1,634.7 1479.3,636.2 1481.5,637.8 1483.7,639.4 1485.9,641.0 1488.1,642.6 1490.4,644.2 1492.6,645.8 1494.8,647.4 1497.0,649.0 1499.2,650.6 1501.4,652.2 1503.7,653.9 1505.9,655.5 1508.1,657.1 1510.3,658.8 1512.5,660.4 1514.7,662.1 1517.0,663.7 1519.2,665.4 1521.4,667.0 1523.6,668.7 1525.8,670.3 1528.0,672.0 1530.3,673.6 1532.5,675.3 1534.7,676.9 1536.9,678.5 1539.1,680.2 1541.3,681.8 1543.6,683.4 1545.8,685.0 1548.0,686.7 1550.2,688.3 1552.4,689.9 1554.6,691.5 1556.9,693.1 1559.1,694.7 1561.3,696.3 1563.5,697.9 1565.7,699.5 1567.9,701.1 1570.2,702.7 1572.4,704.2 1574.6,705.8 1576.8,707.4 1579.0,708.9 1581.2,710.5 1583.5,712.0 1585.7,713.5 1587.9,715.1 1590.1,716.6 1592.3,718.1 1594.5,719.6 1596.8,721.1 1599.0,722.6 1601.2,724.0 1603.4,725.5 1605.6,727.0 1607.8,728.4 1610.1,729.8 1612.3,731.3 1614.5,732.7 1616.7,734.1 1618.9,735.5 1621.1,736.9 1623.4,738.3 1625.6,739.6 1627.8,741.0 1630.0,742.3 1632.2,743.7 1634.4,745.0 1636.7,746.3 1638.9,747.6 1641.1,748.9 1643.3,750.2 1645.5,751.4 1647.7,752.7 1650.0,753.9 1652.2,755.2 1654.4,756.4 1656.6,757.6 1658.8,758.8 1661.0,760.0 1663.3,761.1 1665.5,762.3 1667.7,763.4 1669.9,764.6 1672.1,765.7 1674.3,766.8 1676.6,767.9 1678.8,769.0 1681.0,770.1 1683.2,771.2 1685.4,772.2 1687.6,773.3 1689.9,774.3 1692.1,775.3 1694.3,776.3 1696.5,777.3 1698.7,778.3 1700.9,779.3 1703.2,780.3 1705.4,781.2 1707.6,782.1 1709.8,783.1 1712.0,784.0 1714.2,784.9 1716.5,785.8 1718.7,786.7 1720.9,787.6 1723.1,788.4 1725.3,789.3 1727.5,790.1 1729.8,791.0 1732.0,791.8 1734.2,792.6 1736.4,793.4 1738.6,794.2 1740.8,795.0 1743.0,795.8 1745.3,796.5 1747.5,797.3 1749.7,798.0 1751.9,798.8 1754.1,799.5 1756.3,800.2 1758.6,800.9 1760.8,801.6 1763.0,802.3 1765.2,803.0 1767.4,803.7 1769.6,804.3 1771.9,805.0 1774.1,805.6 1776.3,806.3 1778.5,806.9 1780.7,807.5 1782.9,808.1 1785.2,808.7 1787.4,809.3 1789.6,809.9 1791.8,810.5 1794.0,811.1 1796.2,811.6 1798.5,812.2 1800.7,812.7 1802.9,813.3 1805.1,813.8 1807.3,814.3 1809.5,814.9 1811.8,815.4 1814.0,815.9 1816.2,816.4 1818.4,816.9 1820.6,817.4 1822.8,817.8 1825.1,818.3 1827.3,818.8 1829.5,819.2 1831.7,819.7 1833.9,820.1 1836.1,820.6 1838.4,821.0 1840.6,821.5 1842.8,821.9 1845.0,822.3 1847.2,822.7 1849.4,823.1 1851.7,823.5 1853.9,823.9 1856.1,824.3 1858.3,824.7 1860.5,825.1 1862.7,825.4 1865.0,825.8 1867.2,826.2 1869.4,826.5 1871.6,826.9 1873.8,827.2 1876.0,827.6 1878.3,827.9 1880.5,828.2 1882.7,828.6 1884.9,828.9 1887.1,829.2 1889.3,829.5 1891.6,829.8 1893.8,830.1 1896.0,830.5 1898.2,830.7 1900.4,831.0 1902.6,831.3 1904.9,831.6 1907.1,831.9 1909.3,832.2 1911.5,832.5 1913.7,832.7 1915.9,833.0 1918.2,833.2 1920.4,833.5 1922.6,833.8 1924.8,834.0 1927.0,834.3 1929.2,834.5 1931.5,834.7 1933.7,835.0 1935.9,835.2 1938.1,835.4 1940.3,835.7 1942.5,835.9 1944.8,836.1 1947.0,836.3 1949.2,836.6 1951.4,836.8 1953.6,837.0 1955.8,837.2 1958.1,837.4 1960.3,837.6 1962.5,837.8 1964.7,838.0 1966.9,838.2 1969.1,838.4 1971.4,838.5 1973.6,838.7 1975.8,838.9 1978.0,839.1 1980.2,839.3 1982.4,839.4 1984.7,839.6 1986.9,839.8 1989.1,839.9 1991.3,840.1" stroke="#0000ff" stroke-width="2.8" fill="none" stroke-linejoin="round" clip-path="url(#cbot)"/>
<path d="M220.3,346.2 222.5,345.7 224.7,345.2 226.9,344.6 229.2,344.1 231.4,343.6 233.6,343.1 235.8,342.6 238.0,342.0 240.2,341.5 242.5,341.0 244.7,340.5 246.9,340.0 249.1,339.5 251.3,338.9 253.5,338.4 255.8,337.9 258.0,337.4 260.2,336.9 262.4,336.3 264.6,335.8 266.8,335.3 269.1,334.8 271.3,334.3 273.5,333.7 275.7,333.2 277.9,332.7 280.1,332.2 282.4,331.7 284.6,331.2 286.8,330.6 289.0,330.1 291.2,329.6 293.4,329.1 295.7,328.6 297.9,328.0 300.1,327.5 302.3,327.0 304.5,326.5 306.7,326.0 309.0,325.4 311.2,324.9 313.4,324.4 315.6,323.9 317.8,323.4 320.0,322.9 322.3,322.3 324.5,321.8 326.7,321.3 328.9,320.8 331.1,320.3 333.3,319.7 335.6,319.2 337.8,318.7 340.0,318.2 342.2,317.7 344.4,317.1 346.6,316.6 348.9,316.1 351.1,315.6 353.3,315.1 355.5,314.6 357.7,314.0 359.9,313.5 362.2,313.0 364.4,312.5 366.6,312.0 368.8,311.4 371.0,310.9 373.2,310.4 375.5,309.9 377.7,309.4 379.9,308.8 382.1,308.3 384.3,307.8 386.5,307.3 388.8,306.8 391.0,306.3 393.2,305.7 395.4,305.2 397.6,304.7 399.8,304.2 402.1,303.7 404.3,303.1 406.5,302.6 408.7,302.1 410.9,301.6 413.1,301.1 415.4,300.5 417.6,300.0 419.8,299.5 422.0,299.0 424.2,298.5 426.4,298.0 428.7,297.4 430.9,296.9 433.1,296.4 435.3,295.9 437.5,295.4 439.7,294.8 442.0,294.3 444.2,293.8 446.4,293.3 448.6,292.8 450.8,292.2 453.0,291.7 455.3,291.2 457.5,290.7 459.7,290.2 461.9,289.7 464.1,289.1 466.3,288.6 468.6,288.1 470.8,287.6 473.0,287.1 475.2,286.5 477.4,286.0 479.6,285.5 481.8,285.0 484.1,284.5 486.3,283.9 488.5,283.4 490.7,282.9 492.9,282.4 495.1,281.9 497.4,281.4 499.6,280.8 501.8,280.3 504.0,279.8 506.2,279.3 508.4,278.8 510.7,278.2 512.9,277.7 515.1,277.2 517.3,276.7 519.5,276.2 521.7,275.6 524.0,275.1 526.2,274.6 528.4,274.1 530.6,273.6 532.8,273.1 535.0,272.5 537.3,272.0 539.5,271.5 541.7,271.0 543.9,270.5 546.1,269.9 548.3,269.4 550.6,268.9 552.8,268.4 555.0,267.9 557.2,267.3 559.4,266.8 561.6,266.3 563.9,265.8 566.1,265.3 568.3,264.8 570.5,264.2 572.7,263.7 574.9,263.2 577.2,262.7 579.4,262.2 581.6,261.7 583.8,261.1 586.0,260.6 588.2,260.1 590.5,259.6 592.7,259.1 594.9,258.6 597.1,258.0 599.3,257.5 601.5,257.0 603.8,256.5 606.0,256.0 608.2,255.5 610.4,254.9 612.6,254.4 614.8,253.9 617.1,253.4 619.3,252.9 621.5,252.4 623.7,251.9 625.9,251.3 628.1,250.8 630.4,250.3 632.6,249.8 634.8,249.3 637.0,248.8 639.2,248.2 641.4,247.7 643.7,247.2 645.9,246.7 648.1,246.2 650.3,245.7 652.5,245.2 654.7,244.6 657.0,244.1 659.2,243.6 661.4,243.1 663.6,242.6 665.8,242.1 668.0,241.5 670.3,241.0 672.5,240.5 674.7,240.0 676.9,239.5 679.1,239.0 681.3,238.5 683.6,237.9 685.8,237.4 688.0,236.9 690.2,236.4 692.4,235.9 694.6,235.4 696.9,234.8 699.1,234.3 701.3,233.8 703.5,233.3 705.7,232.8 707.9,232.3 710.2,231.8 712.4,231.2 714.6,230.7 716.8,230.2 719.0,229.7 721.2,229.2 723.5,228.7 725.7,228.1 727.9,227.6 730.1,227.1 732.3,226.6 734.5,226.1 736.7,225.6 739.0,225.1 741.2,224.5 743.4,224.0 745.6,223.5 747.8,223.0 750.0,222.5 752.3,222.0 754.5,221.4 756.7,220.9 758.9,220.4 761.1,219.9 763.3,219.4 765.6,218.9 767.8,218.4 770.0,217.8 772.2,217.3 774.4,216.8 776.6,216.3 778.9,215.8 781.1,215.3 783.3,214.8 785.5,214.2 787.7,213.7 789.9,213.2 792.2,212.7 794.4,212.2 796.6,211.7 798.8,211.1 801.0,210.6 803.2,210.1 805.5,209.6 807.7,209.1 809.9,208.6 812.1,208.1 814.3,207.5 816.5,207.0 818.8,206.5 821.0,206.0 823.2,205.5 825.4,205.0 827.6,204.5 829.8,203.9 832.1,203.4 834.3,202.9 836.5,202.4 838.7,201.9 840.9,201.4 843.1,200.9 845.4,200.3 847.6,199.8 849.8,199.3 852.0,198.8 854.2,198.3 856.4,197.8 858.7,197.3 860.9,196.8 863.1,196.2 865.3,195.7 867.5,195.2 869.7,194.7 872.0,194.2 874.2,193.7 876.4,193.2 878.6,192.6 880.8,192.1 883.0,191.6 885.3,191.1 887.5,190.6 889.7,190.1 891.9,189.6 894.1,189.1 896.3,188.5 898.6,188.0 900.8,187.5 903.0,187.0 905.2,186.5 907.4,186.0 909.6,185.5 911.9,185.0 914.1,184.5 916.3,183.9 918.5,183.4 920.7,182.9 922.9,182.4 925.2,181.9 927.4,181.4 929.6,180.9 931.8,180.4 934.0,179.9 936.2,179.4 938.5,178.9 940.7,178.4 942.9,177.9 945.1,177.3 947.3,176.8 949.5,176.3 951.8,175.8 954.0,175.3 956.2,174.8 958.4,174.3 960.6,173.8 962.8,173.3 965.1,172.8 967.3,172.3 969.5,171.8 971.7,171.3 973.9,170.8 976.1,170.3 978.4,169.8 980.6,169.3 982.8,168.8 985.0,168.3 987.2,167.8 989.4,167.3 991.6,166.8 993.9,166.3 996.1,165.8 998.3,165.3 1000.5,164.8 1002.7,164.3 1004.9,163.8 1007.2,163.4 1009.4,162.9 1011.6,162.4 1013.8,161.9 1016.0,161.4 1018.2,160.9 1020.5,160.4 1022.7,159.9 1024.9,159.4 1027.1,158.9 1029.3,158.4 1031.5,157.9 1033.8,157.4 1036.0,156.9 1038.2,156.5 1040.4,156.0 1042.6,155.5 1044.8,155.0 1047.1,154.5 1049.3,154.0 1051.5,153.5 1053.7,153.0 1055.9,152.6 1058.1,152.1 1060.4,151.6 1062.6,151.1 1064.8,150.6 1067.0,150.2 1069.2,149.7 1071.4,149.2 1073.7,148.7 1075.9,148.2 1078.1,147.8 1080.3,147.3 1082.5,146.8 1084.7,146.3 1087.0,145.9 1089.2,145.4 1091.4,144.9 1093.6,144.4 1095.8,144.0 1098.0,143.5 1100.3,143.0 1102.5,142.6 1104.7,142.1 1106.9,141.7 1109.1,141.2 1111.3,140.7 1113.6,140.3 1115.8,139.8 1118.0,139.4 1120.2,138.9 1122.4,138.4 1124.6,138.0 1126.9,137.5 1129.1,137.1 1131.3,136.6 1133.5,136.2 1135.7,135.8 1137.9,135.3 1140.2,134.9 1142.4,134.4 1144.6,134.0 1146.8,133.6 1149.0,133.1 1151.2,132.7 1153.5,132.3 1155.7,131.8 1157.9,131.4 1160.1,131.0 1162.3,130.6 1164.5,130.1 1166.8,129.7 1169.0,129.3 1171.2,128.9 1173.4,128.5 1175.6,128.1 1177.8,127.7 1180.1,127.3 1182.3,126.9 1184.5,126.5 1186.7,126.1 1188.9,125.7 1191.1,125.3 1193.4,124.9 1195.6,124.5 1197.8,124.1 1200.0,123.7 1202.2,123.4 1204.4,123.0 1206.7,122.6 1208.9,122.2 1211.1,121.9 1213.3,121.5 1215.5,121.1 1217.7,120.8 1220.0,120.4 1222.2,120.1 1224.4,119.7 1226.6,119.4 1228.8,119.0 1231.0,118.7 1233.2,118.4 1235.5,118.0 1237.7,117.7 1239.9,117.4 1242.1,117.1 1244.3,116.7 1246.5,116.4 1248.8,116.1 1251.0,115.8 1253.2,115.5 1255.4,115.2 1257.6,114.9 1259.8,114.6 1262.1,114.3 1264.3,114.0 1266.5,113.7 1268.7,113.5 1270.9,113.2 1273.1,112.9 1275.4,112.6 1277.6,112.4 1279.8,112.1 1282.0,111.9 1284.2,111.6 1286.4,111.3 1288.7,111.1 1290.9,110.9 1293.1,110.6 1295.3,110.4 1297.5,110.2 1299.7,109.9 1302.0,109.7 1304.2,109.5 1306.4,109.3 1308.6,109.0 1310.8,108.8 1313.0,108.6 1315.3,108.4 1317.5,108.2 1319.7,108.0 1321.9,107.8 1324.1,107.6 1326.3,107.5 1328.6,107.3 1330.8,107.1 1333.0,106.9 1335.2,106.7 1337.4,106.6 1339.6,106.4 1341.9,106.2 1344.1,106.1 1346.3,105.9 1348.5,105.8 1350.7,105.6 1352.9,105.5 1355.2,105.3 1357.4,105.2 1359.6,105.1 1361.8,104.9 1364.0,104.8 1366.2,104.7 1368.5,104.5 1370.7,104.4 1372.9,104.3 1375.1,104.2 1377.3,104.0 1379.5,103.9 1381.8,103.8 1384.0,103.7 1386.2,103.6 1388.4,103.5 1390.6,103.4 1392.8,103.3 1395.1,103.2 1397.3,103.1 1399.5,103.0 1401.7,102.9 1403.9,102.8 1406.1,102.7 1408.4,102.7 1410.6,102.6 1412.8,102.5 1415.0,102.4 1417.2,102.3 1419.4,102.3 1421.7,102.2 1423.9,102.1 1426.1,102.1 1428.3,102.0 1430.5,101.9 1432.7,101.9 1435.0,101.8 1437.2,101.7 1439.4,101.7 1441.6,101.6 1443.8,101.6 1446.0,101.5 1448.3,101.4 1450.5,101.4 1452.7,101.3 1454.9,101.3 1457.1,101.2 1459.3,101.2 1461.6,101.2 1463.8,101.1 1466.0,101.1 1468.2,101.0 1470.4,101.0 1472.6,100.9 1474.9,100.9 1477.1,100.9 1479.3,100.8 1481.5,100.8 1483.7,100.8 1485.9,100.7 1488.1,100.7 1490.4,100.7 1492.6,100.6 1494.8,100.6 1497.0,100.6 1499.2,100.5 1501.4,100.5 1503.7,100.5 1505.9,100.4 1508.1,100.4 1510.3,100.4 1512.5,100.4 1514.7,100.3 1517.0,100.3 1519.2,100.3 1521.4,100.3 1523.6,100.3 1525.8,100.2 1528.0,100.2 1530.3,100.2 1532.5,100.2 1534.7,100.2 1536.9,100.1 1539.1,100.1 1541.3,100.1 1543.6,100.1 1545.8,100.1 1548.0,100.1 1550.2,100.0 1552.4,100.0 1554.6,100.0 1556.9,100.0 1559.1,100.0 1561.3,100.0 1563.5,100.0 1565.7,99.9 1567.9,99.9 1570.2,99.9 1572.4,99.9 1574.6,99.9 1576.8,99.9 1579.0,99.9 1581.2,99.9 1583.5,99.9 1585.7,99.8 1587.9,99.8 1590.1,99.8 1592.3,99.8 1594.5,99.8 1596.8,99.8 1599.0,99.8 1601.2,99.8 1603.4,99.8 1605.6,99.8 1607.8,99.8 1610.1,99.7 1612.3,99.7 1614.5,99.7 1616.7,99.7 1618.9,99.7 1621.1,99.7 1623.4,99.7 1625.6,99.7 1627.8,99.7 1630.0,99.7 1632.2,99.7 1634.4,99.7 1636.7,99.7 1638.9,99.7 1641.1,99.7 1643.3,99.7 1645.5,99.7 1647.7,99.7 1650.0,99.6 1652.2,99.6 1654.4,99.6 1656.6,99.6 1658.8,99.6 1661.0,99.6 1663.3,99.6 1665.5,99.6 1667.7,99.6 1669.9,99.6 1672.1,99.6 1674.3,99.6 1676.6,99.6 1678.8,99.6 1681.0,99.6 1683.2,99.6 1685.4,99.6 1687.6,99.6 1689.9,99.6 1692.1,99.6 1694.3,99.6 1696.5,99.6 1698.7,99.6 1700.9,99.6 1703.2,99.6 1705.4,99.6 1707.6,99.6 1709.8,99.6 1712.0,99.6 1714.2,99.6 1716.5,99.6 1718.7,99.6 1720.9,99.6 1723.1,99.6 1725.3,99.6 1727.5,99.6 1729.8,99.6 1732.0,99.6 1734.2,99.5 1736.4,99.5 1738.6,99.5 1740.8,99.5 1743.0,99.5 1745.3,99.5 1747.5,99.5 1749.7,99.5 1751.9,99.5 1754.1,99.5 1756.3,99.5 1758.6,99.5 1760.8,99.5 1763.0,99.5 1765.2,99.5 1767.4,99.5 1769.6,99.5 1771.9,99.5 1774.1,99.5 1776.3,99.5 1778.5,99.5 1780.7,99.5 1782.9,99.5 1785.2,99.5 1787.4,99.5 1789.6,99.5 1791.8,99.5 1794.0,99.5 1796.2,99.5 1798.5,99.5 1800.7,99.5 1802.9,99.5 1805.1,99.5 1807.3,99.5 1809.5,99.5 1811.8,99.5 1814.0,99.5 1816.2,99.5 1818.4,99.5 1820.6,99.5 1822.8,99.5 1825.1,99.5 1827.3,99.5 1829.5,99.5 1831.7,99.5 1833.9,99.5 1836.1,99.5 1838.4,99.5 1840.6,99.5 1842.8,99.5 1845.0,99.5 1847.2,99.5 1849.4,99.5 1851.7,99.5 1853.9,99.5 1856.1,99.5 1858.3,99.5 1860.5,99.5 1862.7,99.5 1865.0,99.5 1867.2,99.5 1869.4,99.5 1871.6,99.5 1873.8,99.5 1876.0,99.5 1878.3,99.5 1880.5,99.5 1882.7,99.5 1884.9,99.5 1887.1,99.5 1889.3,99.5 1891.6,99.5 1893.8,99.5 1896.0,99.5 1898.2,99.5 1900.4,99.5 1902.6,99.5 1904.9,99.5 1907.1,99.5 1909.3,99.5 1911.5,99.5 1913.7,99.5 1915.9,99.5 1918.2,99.5 1920.4,99.5 1922.6,99.5 1924.8,99.5 1927.0,99.5 1929.2,99.5 1931.5,99.5 1933.7,99.5 1935.9,99.5 1938.1,99.5 1940.3,99.5 1942.5,99.5 1944.8,99.5 1947.0,99.5 1949.2,99.5 1951.4,99.5 1953.6,99.5 1955.8,99.5 1958.1,99.5 1960.3,99.5 1962.5,99.5 1964.7,99.5 1966.9,99.5 1969.1,99.5 1971.4,99.5 1973.6,99.5 1975.8,99.5 1978.0,99.5 1980.2,99.5 1982.4,99.5 1984.7,99.5 1986.9,99.5 1989.1,99.5 1991.3,99.5" stroke="#0a9a0a" stroke-width="2.8" fill="none" stroke-linejoin="round" clip-path="url(#ctop)"/>
<path d="M220.3,493.5 222.5,493.5 224.7,493.5 226.9,493.5 229.2,493.5 231.4,493.5 233.6,493.6 235.8,493.6 238.0,493.6 240.2,493.6 242.5,493.6 244.7,493.6 246.9,493.6 249.1,493.6 251.3,493.6 253.5,493.6 255.8,493.6 258.0,493.6 260.2,493.6 262.4,493.6 264.6,493.6 266.8,493.6 269.1,493.6 271.3,493.6 273.5,493.6 275.7,493.6 277.9,493.6 280.1,493.6 282.4,493.6 284.6,493.6 286.8,493.7 289.0,493.7 291.2,493.7 293.4,493.7 295.7,493.7 297.9,493.7 300.1,493.7 302.3,493.7 304.5,493.7 306.7,493.7 309.0,493.7 311.2,493.7 313.4,493.7 315.6,493.7 317.8,493.7 320.0,493.7 322.3,493.7 324.5,493.8 326.7,493.8 328.9,493.8 331.1,493.8 333.3,493.8 335.6,493.8 337.8,493.8 340.0,493.8 342.2,493.8 344.4,493.8 346.6,493.8 348.9,493.8 351.1,493.8 353.3,493.8 355.5,493.9 357.7,493.9 359.9,493.9 362.2,493.9 364.4,493.9 366.6,493.9 368.8,493.9 371.0,493.9 373.2,493.9 375.5,493.9 377.7,493.9 379.9,493.9 382.1,494.0 384.3,494.0 386.5,494.0 388.8,494.0 391.0,494.0 393.2,494.0 395.4,494.0 397.6,494.0 399.8,494.0 402.1,494.0 404.3,494.1 406.5,494.1 408.7,494.1 410.9,494.1 413.1,494.1 415.4,494.1 417.6,494.1 419.8,494.1 422.0,494.2 424.2,494.2 426.4,494.2 428.7,494.2 430.9,494.2 433.1,494.2 435.3,494.2 437.5,494.2 439.7,494.3 442.0,494.3 444.2,494.3 446.4,494.3 448.6,494.3 450.8,494.3 453.0,494.3 455.3,494.4 457.5,494.4 459.7,494.4 461.9,494.4 464.1,494.4 466.3,494.4 468.6,494.5 470.8,494.5 473.0,494.5 475.2,494.5 477.4,494.5 479.6,494.5 481.8,494.6 484.1,494.6 486.3,494.6 488.5,494.6 490.7,494.6 492.9,494.7 495.1,494.7 497.4,494.7 499.6,494.7 501.8,494.7 504.0,494.8 506.2,494.8 508.4,494.8 510.7,494.8 512.9,494.8 515.1,494.9 517.3,494.9 519.5,494.9 521.7,494.9 524.0,495.0 526.2,495.0 528.4,495.0 530.6,495.0 532.8,495.1 535.0,495.1 537.3,495.1 539.5,495.1 541.7,495.2 543.9,495.2 546.1,495.2 548.3,495.2 550.6,495.3 552.8,495.3 555.0,495.3 557.2,495.4 559.4,495.4 561.6,495.4 563.9,495.4 566.1,495.5 568.3,495.5 570.5,495.5 572.7,495.6 574.9,495.6 577.2,495.6 579.4,495.7 581.6,495.7 583.8,495.7 586.0,495.8 588.2,495.8 590.5,495.8 592.7,495.9 594.9,495.9 597.1,496.0 599.3,496.0 601.5,496.0 603.8,496.1 606.0,496.1 608.2,496.2 610.4,496.2 612.6,496.2 614.8,496.3 617.1,496.3 619.3,496.4 621.5,496.4 623.7,496.5 625.9,496.5 628.1,496.6 630.4,496.6 632.6,496.7 634.8,496.7 637.0,496.8 639.2,496.8 641.4,496.9 643.7,496.9 645.9,497.0 648.1,497.0 650.3,497.1 652.5,497.1 654.7,497.2 657.0,497.2 659.2,497.3 661.4,497.3 663.6,497.4 665.8,497.5 668.0,497.5 670.3,497.6 672.5,497.6 674.7,497.7 676.9,497.8 679.1,497.8 681.3,497.9 683.6,498.0 685.8,498.0 688.0,498.1 690.2,498.2 692.4,498.2 694.6,498.3 696.9,498.4 699.1,498.5 701.3,498.5 703.5,498.6 705.7,498.7 707.9,498.8 710.2,498.8 712.4,498.9 714.6,499.0 716.8,499.1 719.0,499.2 721.2,499.3 723.5,499.4 725.7,499.4 727.9,499.5 730.1,499.6 732.3,499.7 734.5,499.8 736.7,499.9 739.0,500.0 741.2,500.1 743.4,500.2 745.6,500.3 747.8,500.4 750.0,500.5 752.3,500.6 754.5,500.7 756.7,500.8 758.9,500.9 761.1,501.0 763.3,501.1 765.6,501.3 767.8,501.4 770.0,501.5 772.2,501.6 774.4,501.7 776.6,501.8 778.9,502.0 781.1,502.1 783.3,502.2 785.5,502.4 787.7,502.5 789.9,502.6 792.2,502.8 794.4,502.9 796.6,503.0 798.8,503.2 801.0,503.3 803.2,503.5 805.5,503.6 807.7,503.8 809.9,503.9 812.1,504.1 814.3,504.2 816.5,504.4 818.8,504.5 821.0,504.7 823.2,504.9 825.4,505.0 827.6,505.2 829.8,505.4 832.1,505.5 834.3,505.7 836.5,505.9 838.7,506.1 840.9,506.3 843.1,506.5 845.4,506.7 847.6,506.8 849.8,507.0 852.0,507.2 854.2,507.4 856.4,507.6 858.7,507.9 860.9,508.1 863.1,508.3 865.3,508.5 867.5,508.7 869.7,508.9 872.0,509.2 874.2,509.4 876.4,509.6 878.6,509.9 880.8,510.1 883.0,510.3 885.3,510.6 887.5,510.8 889.7,511.1 891.9,511.4 894.1,511.6 896.3,511.9 898.6,512.1 900.8,512.4 903.0,512.7 905.2,513.0 907.4,513.3 909.6,513.6 911.9,513.8 914.1,514.1 916.3,514.4 918.5,514.7 920.7,515.1 922.9,515.4 925.2,515.7 927.4,516.0 929.6,516.3 931.8,516.7 934.0,517.0 936.2,517.3 938.5,517.7 940.7,518.0 942.9,518.4 945.1,518.8 947.3,519.1 949.5,519.5 951.8,519.9 954.0,520.3 956.2,520.6 958.4,521.0 960.6,521.4 962.8,521.8 965.1,522.3 967.3,522.7 969.5,523.1 971.7,523.5 973.9,524.0 976.1,524.4 978.4,524.8 980.6,525.3 982.8,525.7 985.0,526.2 987.2,526.7 989.4,527.2 991.6,527.6 993.9,528.1 996.1,528.6 998.3,529.1 1000.5,529.6 1002.7,530.2 1004.9,530.7 1007.2,531.2 1009.4,531.8 1011.6,532.3 1013.8,532.9 1016.0,533.4 1018.2,534.0 1020.5,534.6 1022.7,535.2 1024.9,535.8 1027.1,536.4 1029.3,537.0 1031.5,537.6 1033.8,538.2 1036.0,538.9 1038.2,539.5 1040.4,540.1 1042.6,540.8 1044.8,541.5 1047.1,542.2 1049.3,542.8 1051.5,543.5 1053.7,544.2 1055.9,545.0 1058.1,545.7 1060.4,546.4 1062.6,547.2 1064.8,547.9 1067.0,548.7 1069.2,549.5 1071.4,550.2 1073.7,551.0 1075.9,551.8 1078.1,552.6 1080.3,553.5 1082.5,554.3 1084.7,555.1 1087.0,556.0 1089.2,556.9 1091.4,557.7 1093.6,558.6 1095.8,559.5 1098.0,560.4 1100.3,561.3 1102.5,562.3 1104.7,563.2 1106.9,564.2 1109.1,565.1 1111.3,566.1 1113.6,567.1 1115.8,568.1 1118.0,569.1 1120.2,570.1 1122.4,571.1 1124.6,572.2 1126.9,573.2 1129.1,574.3 1131.3,575.4 1133.5,576.5 1135.7,577.6 1137.9,578.7 1140.2,579.8 1142.4,581.0 1144.6,582.1 1146.8,583.3 1149.0,584.5 1151.2,585.6 1153.5,586.8 1155.7,588.0 1157.9,589.3 1160.1,590.5 1162.3,591.7 1164.5,593.0 1166.8,594.3 1169.0,595.6 1171.2,596.8 1173.4,598.1 1175.6,599.5 1177.8,600.8 1180.1,602.1 1182.3,603.5 1184.5,604.8 1186.7,606.2 1188.9,607.6 1191.1,609.0 1193.4,610.4 1195.6,611.8 1197.8,613.2 1200.0,614.7 1202.2,616.1 1204.4,617.6 1206.7,619.0 1208.9,620.5 1211.1,622.0 1213.3,623.5 1215.5,625.0 1217.7,626.5 1220.0,628.0 1222.2,629.6 1224.4,631.1 1226.6,632.7 1228.8,634.2 1231.0,635.8 1233.2,637.3 1235.5,638.9 1237.7,640.5 1239.9,642.1 1242.1,643.7 1244.3,645.3 1246.5,646.9 1248.8,648.5 1251.0,650.1 1253.2,651.7 1255.4,653.4 1257.6,655.0 1259.8,656.6 1262.1,658.3 1264.3,659.9 1266.5,661.6 1268.7,663.2 1270.9,664.9 1273.1,666.5 1275.4,668.2 1277.6,669.8 1279.8,671.5 1282.0,673.1 1284.2,674.8 1286.4,676.4 1288.7,678.0 1290.9,679.7 1293.1,681.3 1295.3,682.9 1297.5,684.5 1299.7,686.2 1302.0,687.8 1304.2,689.4 1306.4,691.0 1308.6,692.6 1310.8,694.2 1313.0,695.8 1315.3,697.4 1317.5,699.0 1319.7,700.6 1321.9,702.2 1324.1,703.7 1326.3,705.3 1328.6,706.9 1330.8,708.4 1333.0,710.0 1335.2,711.5 1337.4,713.1 1339.6,714.6 1341.9,716.1 1344.1,717.6 1346.3,719.1 1348.5,720.6 1350.7,722.1 1352.9,723.6 1355.2,725.1 1357.4,726.5 1359.6,728.0 1361.8,729.4 1364.0,730.8 1366.2,732.3 1368.5,733.7 1370.7,735.1 1372.9,736.5 1375.1,737.8 1377.3,739.2 1379.5,740.6 1381.8,741.9 1384.0,743.3 1386.2,744.6 1388.4,745.9 1390.6,747.2 1392.8,748.5 1395.1,749.8 1397.3,751.0 1399.5,752.3 1401.7,753.5 1403.9,754.8 1406.1,756.0 1408.4,757.2 1410.6,758.4 1412.8,759.6 1415.0,760.8 1417.2,761.9 1419.4,763.1 1421.7,764.2 1423.9,765.4 1426.1,766.5 1428.3,767.6 1430.5,768.7 1432.7,769.8 1435.0,770.8 1437.2,771.9 1439.4,772.9 1441.6,774.0 1443.8,775.0 1446.0,776.0 1448.3,777.0 1450.5,778.0 1452.7,779.0 1454.9,780.0 1457.1,780.9 1459.3,781.9 1461.6,782.8 1463.8,783.7 1466.0,784.6 1468.2,785.5 1470.4,786.4 1472.6,787.3 1474.9,788.2 1477.1,789.0 1479.3,789.9 1481.5,790.7 1483.7,791.5 1485.9,792.4 1488.1,793.2 1490.4,794.0 1492.6,794.8 1494.8,795.5 1497.0,796.3 1499.2,797.1 1501.4,797.8 1503.7,798.5 1505.9,799.3 1508.1,800.0 1510.3,800.7 1512.5,801.4 1514.7,802.1 1517.0,802.8 1519.2,803.5 1521.4,804.1 1523.6,804.8 1525.8,805.4 1528.0,806.1 1530.3,806.7 1532.5,807.3 1534.7,807.9 1536.9,808.5 1539.1,809.1 1541.3,809.7 1543.6,810.3 1545.8,810.9 1548.0,811.5 1550.2,812.0 1552.4,812.6 1554.6,813.1 1556.9,813.7 1559.1,814.2 1561.3,814.7 1563.5,815.2 1565.7,815.7 1567.9,816.2 1570.2,816.7 1572.4,817.2 1574.6,817.7 1576.8,818.2 1579.0,818.6 1581.2,819.1 1583.5,819.6 1585.7,820.0 1587.9,820.5 1590.1,820.9 1592.3,821.3 1594.5,821.8 1596.8,822.2 1599.0,822.6 1601.2,823.0 1603.4,823.4 1605.6,823.8 1607.8,824.2 1610.1,824.6 1612.3,824.9 1614.5,825.3 1616.7,825.7 1618.9,826.1 1621.1,826.4 1623.4,826.8 1625.6,827.1 1627.8,827.5 1630.0,827.8 1632.2,828.1 1634.4,828.5 1636.7,828.8 1638.9,829.1 1641.1,829.4 1643.3,829.7 1645.5,830.1 1647.7,830.4 1650.0,830.7 1652.2,831.0 1654.4,831.2 1656.6,831.5 1658.8,831.8 1661.0,832.1 1663.3,832.4 1665.5,832.6 1667.7,832.9 1669.9,833.2 1672.1,833.4 1674.3,833.7 1676.6,833.9 1678.8,834.2 1681.0,834.4 1683.2,834.7 1685.4,834.9 1687.6,835.1 1689.9,835.4 1692.1,835.6 1694.3,835.8 1696.5,836.1 1698.7,836.3 1700.9,836.5 1703.2,836.7 1705.4,836.9 1707.6,837.1 1709.8,837.3 1712.0,837.5 1714.2,837.7 1716.5,837.9 1718.7,838.1 1720.9,838.3 1723.1,838.5 1725.3,838.7 1727.5,838.9 1729.8,839.0 1732.0,839.2 1734.2,839.4 1736.4,839.6 1738.6,839.7 1740.8,839.9 1743.0,840.1 1745.3,840.2 1747.5,840.4 1749.7,840.5 1751.9,840.7 1754.1,840.8 1756.3,841.0 1758.6,841.1 1760.8,841.3 1763.0,841.4 1765.2,841.6 1767.4,841.7 1769.6,841.9 1771.9,842.0 1774.1,842.1 1776.3,842.3 1778.5,842.4 1780.7,842.5 1782.9,842.6 1785.2,842.8 1787.4,842.9 1789.6,843.0 1791.8,843.1 1794.0,843.3 1796.2,843.4 1798.5,843.5 1800.7,843.6 1802.9,843.7 1805.1,843.8 1807.3,843.9 1809.5,844.0 1811.8,844.1 1814.0,844.2 1816.2,844.3 1818.4,844.4 1820.6,844.5 1822.8,844.6 1825.1,844.7 1827.3,844.8 1829.5,844.9 1831.7,845.0 1833.9,845.1 1836.1,845.2 1838.4,845.3 1840.6,845.4 1842.8,845.5 1845.0,845.5 1847.2,845.6 1849.4,845.7 1851.7,845.8 1853.9,845.9 1856.1,846.0 1858.3,846.0 1860.5,846.1 1862.7,846.2 1865.0,846.3 1867.2,846.3 1869.4,846.4 1871.6,846.5 1873.8,846.5 1876.0,846.6 1878.3,846.7 1880.5,846.8 1882.7,846.8 1884.9,846.9 1887.1,846.9 1889.3,847.0 1891.6,847.1 1893.8,847.1 1896.0,847.2 1898.2,847.3 1900.4,847.3 1902.6,847.4 1904.9,847.4 1907.1,847.5 1909.3,847.5 1911.5,847.6 1913.7,847.7 1915.9,847.7 1918.2,847.8 1920.4,847.8 1922.6,847.9 1924.8,847.9 1927.0,848.0 1929.2,848.0 1931.5,848.1 1933.7,848.1 1935.9,848.2 1938.1,848.2 1940.3,848.3 1942.5,848.3 1944.8,848.3 1947.0,848.4 1949.2,848.4 1951.4,848.5 1953.6,848.5 1955.8,848.6 1958.1,848.6 1960.3,848.6 1962.5,848.7 1964.7,848.7 1966.9,848.8 1969.1,848.8 1971.4,848.8 1973.6,848.9 1975.8,848.9 1978.0,848.9 1980.2,849.0 1982.4,849.0 1984.7,849.0 1986.9,849.1 1989.1,849.1 1991.3,849.1" stroke="#0a9a0a" stroke-width="2.8" fill="none" stroke-linejoin="round" clip-path="url(#cbot)"/>
<path d="M220.3,288.3 222.5,287.7 224.7,287.2 226.9,286.7 229.2,286.2 231.4,285.7 233.6,285.1 235.8,284.6 238.0,284.1 240.2,283.6 242.5,283.1 244.7,282.5 246.9,282.0 249.1,281.5 251.3,281.0 253.5,280.5 255.8,280.0 258.0,279.4 260.2,278.9 262.4,278.4 264.6,277.9 266.8,277.4 269.1,276.8 271.3,276.3 273.5,275.8 275.7,275.3 277.9,274.8 280.1,274.2 282.4,273.7 284.6,273.2 286.8,272.7 289.0,272.2 291.2,271.7 293.4,271.1 295.7,270.6 297.9,270.1 300.1,269.6 302.3,269.1 304.5,268.5 306.7,268.0 309.0,267.5 311.2,267.0 313.4,266.5 315.6,265.9 317.8,265.4 320.0,264.9 322.3,264.4 324.5,263.9 326.7,263.4 328.9,262.8 331.1,262.3 333.3,261.8 335.6,261.3 337.8,260.8 340.0,260.3 342.2,259.7 344.4,259.2 346.6,258.7 348.9,258.2 351.1,257.7 353.3,257.2 355.5,256.7 357.7,256.1 359.9,255.6 362.2,255.1 364.4,254.6 366.6,254.1 368.8,253.6 371.0,253.0 373.2,252.5 375.5,252.0 377.7,251.5 379.9,251.0 382.1,250.5 384.3,250.0 386.5,249.4 388.8,248.9 391.0,248.4 393.2,247.9 395.4,247.4 397.6,246.9 399.8,246.3 402.1,245.8 404.3,245.3 406.5,244.8 408.7,244.3 410.9,243.8 413.1,243.2 415.4,242.7 417.6,242.2 419.8,241.7 422.0,241.2 424.2,240.7 426.4,240.2 428.7,239.6 430.9,239.1 433.1,238.6 435.3,238.1 437.5,237.6 439.7,237.1 442.0,236.5 444.2,236.0 446.4,235.5 448.6,235.0 450.8,234.5 453.0,234.0 455.3,233.5 457.5,232.9 459.7,232.4 461.9,231.9 464.1,231.4 466.3,230.9 468.6,230.4 470.8,229.8 473.0,229.3 475.2,228.8 477.4,228.3 479.6,227.8 481.8,227.3 484.1,226.8 486.3,226.2 488.5,225.7 490.7,225.2 492.9,224.7 495.1,224.2 497.4,223.7 499.6,223.2 501.8,222.6 504.0,222.1 506.2,221.6 508.4,221.1 510.7,220.6 512.9,220.1 515.1,219.5 517.3,219.0 519.5,218.5 521.7,218.0 524.0,217.5 526.2,217.0 528.4,216.5 530.6,215.9 532.8,215.4 535.0,214.9 537.3,214.4 539.5,213.9 541.7,213.4 543.9,212.9 546.1,212.3 548.3,211.8 550.6,211.3 552.8,210.8 555.0,210.3 557.2,209.8 559.4,209.2 561.6,208.7 563.9,208.2 566.1,207.7 568.3,207.2 570.5,206.7 572.7,206.2 574.9,205.6 577.2,205.1 579.4,204.6 581.6,204.1 583.8,203.6 586.0,203.1 588.2,202.6 590.5,202.0 592.7,201.5 594.9,201.0 597.1,200.5 599.3,200.0 601.5,199.5 603.8,199.0 606.0,198.4 608.2,197.9 610.4,197.4 612.6,196.9 614.8,196.4 617.1,195.9 619.3,195.4 621.5,194.9 623.7,194.3 625.9,193.8 628.1,193.3 630.4,192.8 632.6,192.3 634.8,191.8 637.0,191.3 639.2,190.8 641.4,190.2 643.7,189.7 645.9,189.2 648.1,188.7 650.3,188.2 652.5,187.7 654.7,187.2 657.0,186.7 659.2,186.1 661.4,185.6 663.6,185.1 665.8,184.6 668.0,184.1 670.3,183.6 672.5,183.1 674.7,182.6 676.9,182.1 679.1,181.5 681.3,181.0 683.6,180.5 685.8,180.0 688.0,179.5 690.2,179.0 692.4,178.5 694.6,178.0 696.9,177.5 699.1,177.0 701.3,176.5 703.5,176.0 705.7,175.5 707.9,175.0 710.2,174.5 712.4,174.0 714.6,173.5 716.8,173.0 719.0,172.5 721.2,172.0 723.5,171.5 725.7,171.0 727.9,170.5 730.1,170.0 732.3,169.5 734.5,169.0 736.7,168.5 739.0,168.0 741.2,167.5 743.4,167.0 745.6,166.5 747.8,166.0 750.0,165.5 752.3,165.0 754.5,164.5 756.7,164.0 758.9,163.5 761.1,163.0 763.3,162.5 765.6,162.0 767.8,161.5 770.0,161.0 772.2,160.5 774.4,160.0 776.6,159.5 778.9,159.1 781.1,158.6 783.3,158.1 785.5,157.6 787.7,157.1 789.9,156.6 792.2,156.1 794.4,155.6 796.6,155.1 798.8,154.7 801.0,154.2 803.2,153.7 805.5,153.2 807.7,152.7 809.9,152.2 812.1,151.7 814.3,151.3 816.5,150.8 818.8,150.3 821.0,149.8 823.2,149.3 825.4,148.9 827.6,148.4 829.8,147.9 832.1,147.4 834.3,147.0 836.5,146.5 838.7,146.0 840.9,145.5 843.1,145.1 845.4,144.6 847.6,144.1 849.8,143.7 852.0,143.2 854.2,142.7 856.4,142.3 858.7,141.8 860.9,141.3 863.1,140.9 865.3,140.4 867.5,140.0 869.7,139.5 872.0,139.0 874.2,138.6 876.4,138.1 878.6,137.7 880.8,137.2 883.0,136.8 885.3,136.3 887.5,135.9 889.7,135.4 891.9,135.0 894.1,134.6 896.3,134.1 898.6,133.7 900.8,133.3 903.0,132.8 905.2,132.4 907.4,132.0 909.6,131.5 911.9,131.1 914.1,130.7 916.3,130.3 918.5,129.8 920.7,129.4 922.9,129.0 925.2,128.6 927.4,128.2 929.6,127.8 931.8,127.4 934.0,127.0 936.2,126.6 938.5,126.2 940.7,125.8 942.9,125.4 945.1,125.0 947.3,124.6 949.5,124.2 951.8,123.8 954.0,123.5 956.2,123.1 958.4,122.7 960.6,122.3 962.8,122.0 965.1,121.6 967.3,121.2 969.5,120.9 971.7,120.5 973.9,120.2 976.1,119.8 978.4,119.5 980.6,119.1 982.8,118.8 985.0,118.5 987.2,118.1 989.4,117.8 991.6,117.5 993.9,117.2 996.1,116.8 998.3,116.5 1000.5,116.2 1002.7,115.9 1004.9,115.6 1007.2,115.3 1009.4,115.0 1011.6,114.7 1013.8,114.4 1016.0,114.1 1018.2,113.8 1020.5,113.5 1022.7,113.3 1024.9,113.0 1027.1,112.7 1029.3,112.5 1031.5,112.2 1033.8,111.9 1036.0,111.7 1038.2,111.4 1040.4,111.2 1042.6,110.9 1044.8,110.7 1047.1,110.5 1049.3,110.2 1051.5,110.0 1053.7,109.8 1055.9,109.5 1058.1,109.3 1060.4,109.1 1062.6,108.9 1064.8,108.7 1067.0,108.5 1069.2,108.3 1071.4,108.1 1073.7,107.9 1075.9,107.7 1078.1,107.5 1080.3,107.3 1082.5,107.1 1084.7,107.0 1087.0,106.8 1089.2,106.6 1091.4,106.5 1093.6,106.3 1095.8,106.1 1098.0,106.0 1100.3,105.8 1102.5,105.7 1104.7,105.5 1106.9,105.4 1109.1,105.2 1111.3,105.1 1113.6,105.0 1115.8,104.8 1118.0,104.7 1120.2,104.6 1122.4,104.4 1124.6,104.3 1126.9,104.2 1129.1,104.1 1131.3,104.0 1133.5,103.8 1135.7,103.7 1137.9,103.6 1140.2,103.5 1142.4,103.4 1144.6,103.3 1146.8,103.2 1149.0,103.1 1151.2,103.0 1153.5,102.9 1155.7,102.9 1157.9,102.8 1160.1,102.7 1162.3,102.6 1164.5,102.5 1166.8,102.4 1169.0,102.4 1171.2,102.3 1173.4,102.2 1175.6,102.1 1177.8,102.1 1180.1,102.0 1182.3,101.9 1184.5,101.9 1186.7,101.8 1188.9,101.7 1191.1,101.7 1193.4,101.6 1195.6,101.6 1197.8,101.5 1200.0,101.5 1202.2,101.4 1204.4,101.4 1206.7,101.3 1208.9,101.3 1211.1,101.2 1213.3,101.2 1215.5,101.1 1217.7,101.1 1220.0,101.0 1222.2,101.0 1224.4,101.0 1226.6,100.9 1228.8,100.9 1231.0,100.8 1233.2,100.8 1235.5,100.8 1237.7,100.7 1239.9,100.7 1242.1,100.7 1244.3,100.6 1246.5,100.6 1248.8,100.6 1251.0,100.5 1253.2,100.5 1255.4,100.5 1257.6,100.5 1259.8,100.4 1262.1,100.4 1264.3,100.4 1266.5,100.4 1268.7,100.3 1270.9,100.3 1273.1,100.3 1275.4,100.3 1277.6,100.2 1279.8,100.2 1282.0,100.2 1284.2,100.2 1286.4,100.2 1288.7,100.1 1290.9,100.1 1293.1,100.1 1295.3,100.1 1297.5,100.1 1299.7,100.1 1302.0,100.0 1304.2,100.0 1306.4,100.0 1308.6,100.0 1310.8,100.0 1313.0,100.0 1315.3,100.0 1317.5,99.9 1319.7,99.9 1321.9,99.9 1324.1,99.9 1326.3,99.9 1328.6,99.9 1330.8,99.9 1333.0,99.9 1335.2,99.9 1337.4,99.8 1339.6,99.8 1341.9,99.8 1344.1,99.8 1346.3,99.8 1348.5,99.8 1350.7,99.8 1352.9,99.8 1355.2,99.8 1357.4,99.8 1359.6,99.8 1361.8,99.8 1364.0,99.7 1366.2,99.7 1368.5,99.7 1370.7,99.7 1372.9,99.7 1375.1,99.7 1377.3,99.7 1379.5,99.7 1381.8,99.7 1384.0,99.7 1386.2,99.7 1388.4,99.7 1390.6,99.7 1392.8,99.7 1395.1,99.7 1397.3,99.7 1399.5,99.7 1401.7,99.7 1403.9,99.6 1406.1,99.6 1408.4,99.6 1410.6,99.6 1412.8,99.6 1415.0,99.6 1417.2,99.6 1419.4,99.6 1421.7,99.6 1423.9,99.6 1426.1,99.6 1428.3,99.6 1430.5,99.6 1432.7,99.6 1435.0,99.6 1437.2,99.6 1439.4,99.6 1441.6,99.6 1443.8,99.6 1446.0,99.6 1448.3,99.6 1450.5,99.6 1452.7,99.6 1454.9,99.6 1457.1,99.6 1459.3,99.6 1461.6,99.6 1463.8,99.6 1466.0,99.6 1468.2,99.6 1470.4,99.6 1472.6,99.6 1474.9,99.6 1477.1,99.6 1479.3,99.6 1481.5,99.6 1483.7,99.6 1485.9,99.6 1488.1,99.5 1490.4,99.5 1492.6,99.5 1494.8,99.5 1497.0,99.5 1499.2,99.5 1501.4,99.5 1503.7,99.5 1505.9,99.5 1508.1,99.5 1510.3,99.5 1512.5,99.5 1514.7,99.5 1517.0,99.5 1519.2,99.5 1521.4,99.5 1523.6,99.5 1525.8,99.5 1528.0,99.5 1530.3,99.5 1532.5,99.5 1534.7,99.5 1536.9,99.5 1539.1,99.5 1541.3,99.5 1543.6,99.5 1545.8,99.5 1548.0,99.5 1550.2,99.5 1552.4,99.5 1554.6,99.5 1556.9,99.5 1559.1,99.5 1561.3,99.5 1563.5,99.5 1565.7,99.5 1567.9,99.5 1570.2,99.5 1572.4,99.5 1574.6,99.5 1576.8,99.5 1579.0,99.5 1581.2,99.5 1583.5,99.5 1585.7,99.5 1587.9,99.5 1590.1,99.5 1592.3,99.5 1594.5,99.5 1596.8,99.5 1599.0,99.5 1601.2,99.5 1603.4,99.5 1605.6,99.5 1607.8,99.5 1610.1,99.5 1612.3,99.5 1614.5,99.5 1616.7,99.5 1618.9,99.5 1621.1,99.5 1623.4,99.5 1625.6,99.5 1627.8,99.5 1630.0,99.5 1632.2,99.5 1634.4,99.5 1636.7,99.5 1638.9,99.5 1641.1,99.5 1643.3,99.5 1645.5,99.5 1647.7,99.5 1650.0,99.5 1652.2,99.5 1654.4,99.5 1656.6,99.5 1658.8,99.5 1661.0,99.5 1663.3,99.5 1665.5,99.5 1667.7,99.5 1669.9,99.5 1672.1,99.5 1674.3,99.5 1676.6,99.5 1678.8,99.5 1681.0,99.5 1683.2,99.5 1685.4,99.5 1687.6,99.5 1689.9,99.5 1692.1,99.5 1694.3,99.5 1696.5,99.5 1698.7,99.5 1700.9,99.5 1703.2,99.5 1705.4,99.5 1707.6,99.5 1709.8,99.5 1712.0,99.5 1714.2,99.5 1716.5,99.5 1718.7,99.5 1720.9,99.5 1723.1,99.5 1725.3,99.5 1727.5,99.5 1729.8,99.5 1732.0,99.5 1734.2,99.5 1736.4,99.5 1738.6,99.5 1740.8,99.5 1743.0,99.5 1745.3,99.5 1747.5,99.5 1749.7,99.5 1751.9,99.5 1754.1,99.5 1756.3,99.5 1758.6,99.5 1760.8,99.5 1763.0,99.5 1765.2,99.5 1767.4,99.5 1769.6,99.5 1771.9,99.5 1774.1,99.5 1776.3,99.5 1778.5,99.5 1780.7,99.5 1782.9,99.5 1785.2,99.5 1787.4,99.5 1789.6,99.5 1791.8,99.5 1794.0,99.5 1796.2,99.5 1798.5,99.5 1800.7,99.5 1802.9,99.5 1805.1,99.5 1807.3,99.5 1809.5,99.5 1811.8,99.5 1814.0,99.5 1816.2,99.5 1818.4,99.5 1820.6,99.5 1822.8,99.5 1825.1,99.5 1827.3,99.5 1829.5,99.5 1831.7,99.5 1833.9,99.5 1836.1,99.5 1838.4,99.5 1840.6,99.5 1842.8,99.5 1845.0,99.5 1847.2,99.5 1849.4,99.5 1851.7,99.5 1853.9,99.5 1856.1,99.5 1858.3,99.5 1860.5,99.5 1862.7,99.5 1865.0,99.5 1867.2,99.5 1869.4,99.5 1871.6,99.5 1873.8,99.5 1876.0,99.5 1878.3,99.5 1880.5,99.5 1882.7,99.5 1884.9,99.5 1887.1,99.5 1889.3,99.5 1891.6,99.5 1893.8,99.5 1896.0,99.5 1898.2,99.5 1900.4,99.5 1902.6,99.5 1904.9,99.5 1907.1,99.5 1909.3,99.5 1911.5,99.5 1913.7,99.5 1915.9,99.5 1918.2,99.5 1920.4,99.5 1922.6,99.5 1924.8,99.5 1927.0,99.5 1929.2,99.5 1931.5,99.5 1933.7,99.5 1935.9,99.5 1938.1,99.5 1940.3,99.5 1942.5,99.5 1944.8,99.5 1947.0,99.5 1949.2,99.5 1951.4,99.5 1953.6,99.5 1955.8,99.5 1958.1,99.5 1960.3,99.5 1962.5,99.5 1964.7,99.5 1966.9,99.5 1969.1,99.5 1971.4,99.5 1973.6,99.5 1975.8,99.5 1978.0,99.5 1980.2,99.5 1982.4,99.5 1984.7,99.5 1986.9,99.5 1989.1,99.5 1991.3,99.5" stroke="#ff0000" stroke-width="2.8" fill="none" stroke-linejoin="round" clip-path="url(#ctop)"/>
<path d="M220.3,494.4 222.5,494.5 224.7,494.5 226.9,494.5 229.2,494.5 231.4,494.5 233.6,494.6 235.8,494.6 238.0,494.6 240.2,494.6 242.5,494.6 244.7,494.6 246.9,494.7 249.1,494.7 251.3,494.7 253.5,494.7 255.8,494.7 258.0,494.8 260.2,494.8 262.4,494.8 264.6,494.8 266.8,494.9 269.1,494.9 271.3,494.9 273.5,494.9 275.7,494.9 277.9,495.0 280.1,495.0 282.4,495.0 284.6,495.0 286.8,495.1 289.0,495.1 291.2,495.1 293.4,495.1 295.7,495.2 297.9,495.2 300.1,495.2 302.3,495.3 304.5,495.3 306.7,495.3 309.0,495.3 311.2,495.4 313.4,495.4 315.6,495.4 317.8,495.5 320.0,495.5 322.3,495.5 324.5,495.6 326.7,495.6 328.9,495.6 331.1,495.7 333.3,495.7 335.6,495.7 337.8,495.8 340.0,495.8 342.2,495.8 344.4,495.9 346.6,495.9 348.9,496.0 351.1,496.0 353.3,496.0 355.5,496.1 357.7,496.1 359.9,496.1 362.2,496.2 364.4,496.2 366.6,496.3 368.8,496.3 371.0,496.4 373.2,496.4 375.5,496.5 377.7,496.5 379.9,496.5 382.1,496.6 384.3,496.6 386.5,496.7 388.8,496.7 391.0,496.8 393.2,496.8 395.4,496.9 397.6,496.9 399.8,497.0 402.1,497.0 404.3,497.1 406.5,497.2 408.7,497.2 410.9,497.3 413.1,497.3 415.4,497.4 417.6,497.4 419.8,497.5 422.0,497.6 424.2,497.6 426.4,497.7 428.7,497.8 430.9,497.8 433.1,497.9 435.3,497.9 437.5,498.0 439.7,498.1 442.0,498.2 444.2,498.2 446.4,498.3 448.6,498.4 450.8,498.4 453.0,498.5 455.3,498.6 457.5,498.7 459.7,498.7 461.9,498.8 464.1,498.9 466.3,499.0 468.6,499.1 470.8,499.2 473.0,499.2 475.2,499.3 477.4,499.4 479.6,499.5 481.8,499.6 484.1,499.7 486.3,499.8 488.5,499.9 490.7,500.0 492.9,500.1 495.1,500.2 497.4,500.3 499.6,500.4 501.8,500.5 504.0,500.6 506.2,500.7 508.4,500.8 510.7,500.9 512.9,501.0 515.1,501.1 517.3,501.2 519.5,501.3 521.7,501.5 524.0,501.6 526.2,501.7 528.4,501.8 530.6,501.9 532.8,502.1 535.0,502.2 537.3,502.3 539.5,502.4 541.7,502.6 543.9,502.7 546.1,502.9 548.3,503.0 550.6,503.1 552.8,503.3 555.0,503.4 557.2,503.6 559.4,503.7 561.6,503.9 563.9,504.0 566.1,504.2 568.3,504.3 570.5,504.5 572.7,504.7 574.9,504.8 577.2,505.0 579.4,505.2 581.6,505.3 583.8,505.5 586.0,505.7 588.2,505.9 590.5,506.0 592.7,506.2 594.9,506.4 597.1,506.6 599.3,506.8 601.5,507.0 603.8,507.2 606.0,507.4 608.2,507.6 610.4,507.8 612.6,508.0 614.8,508.2 617.1,508.4 619.3,508.7 621.5,508.9 623.7,509.1 625.9,509.3 628.1,509.6 630.4,509.8 632.6,510.0 634.8,510.3 637.0,510.5 639.2,510.8 641.4,511.0 643.7,511.3 645.9,511.5 648.1,511.8 650.3,512.1 652.5,512.3 654.7,512.6 657.0,512.9 659.2,513.2 661.4,513.5 663.6,513.8 665.8,514.0 668.0,514.3 670.3,514.7 672.5,515.0 674.7,515.3 676.9,515.6 679.1,515.9 681.3,516.2 683.6,516.6 685.8,516.9 688.0,517.2 690.2,517.6 692.4,517.9 694.6,518.3 696.9,518.7 699.1,519.0 701.3,519.4 703.5,519.8 705.7,520.1 707.9,520.5 710.2,520.9 712.4,521.3 714.6,521.7 716.8,522.1 719.0,522.5 721.2,523.0 723.5,523.4 725.7,523.8 727.9,524.3 730.1,524.7 732.3,525.2 734.5,525.6 736.7,526.1 739.0,526.5 741.2,527.0 743.4,527.5 745.6,528.0 747.8,528.5 750.0,529.0 752.3,529.5 754.5,530.0 756.7,530.5 758.9,531.1 761.1,531.6 763.3,532.1 765.6,532.7 767.8,533.3 770.0,533.8 772.2,534.4 774.4,535.0 776.6,535.6 778.9,536.2 781.1,536.8 783.3,537.4 785.5,538.0 787.7,538.7 789.9,539.3 792.2,540.0 794.4,540.6 796.6,541.3 798.8,542.0 801.0,542.6 803.2,543.3 805.5,544.0 807.7,544.7 809.9,545.5 812.1,546.2 814.3,546.9 816.5,547.7 818.8,548.4 821.0,549.2 823.2,550.0 825.4,550.8 827.6,551.6 829.8,552.4 832.1,553.2 834.3,554.0 836.5,554.9 838.7,555.7 840.9,556.6 843.1,557.5 845.4,558.3 847.6,559.2 849.8,560.1 852.0,561.1 854.2,562.0 856.4,562.9 858.7,563.9 860.9,564.8 863.1,565.8 865.3,566.8 867.5,567.8 869.7,568.8 872.0,569.8 874.2,570.8 876.4,571.9 878.6,572.9 880.8,574.0 883.0,575.1 885.3,576.2 887.5,577.2 889.7,578.4 891.9,579.5 894.1,580.6 896.3,581.8 898.6,582.9 900.8,584.1 903.0,585.3 905.2,586.5 907.4,587.7 909.6,588.9 911.9,590.1 914.1,591.4 916.3,592.6 918.5,593.9 920.7,595.2 922.9,596.5 925.2,597.8 927.4,599.1 929.6,600.4 931.8,601.7 934.0,603.1 936.2,604.4 938.5,605.8 940.7,607.2 942.9,608.6 945.1,610.0 947.3,611.4 949.5,612.8 951.8,614.2 954.0,615.7 956.2,617.1 958.4,618.6 960.6,620.1 962.8,621.5 965.1,623.0 967.3,624.5 969.5,626.1 971.7,627.6 973.9,629.1 976.1,630.6 978.4,632.2 980.6,633.7 982.8,635.3 985.0,636.9 987.2,638.4 989.4,640.0 991.6,641.6 993.9,643.2 996.1,644.8 998.3,646.4 1000.5,648.0 1002.7,649.6 1004.9,651.3 1007.2,652.9 1009.4,654.5 1011.6,656.1 1013.8,657.8 1016.0,659.4 1018.2,661.1 1020.5,662.7 1022.7,664.4 1024.9,666.0 1027.1,667.7 1029.3,669.3 1031.5,671.0 1033.8,672.6 1036.0,674.3 1038.2,675.9 1040.4,677.5 1042.6,679.2 1044.8,680.8 1047.1,682.4 1049.3,684.0 1051.5,685.7 1053.7,687.3 1055.9,688.9 1058.1,690.5 1060.4,692.1 1062.6,693.7 1064.8,695.3 1067.0,696.9 1069.2,698.5 1071.4,700.1 1073.7,701.7 1075.9,703.3 1078.1,704.8 1080.3,706.4 1082.5,708.0 1084.7,709.5 1087.0,711.1 1089.2,712.6 1091.4,714.1 1093.6,715.6 1095.8,717.2 1098.0,718.7 1100.3,720.2 1102.5,721.7 1104.7,723.1 1106.9,724.6 1109.1,726.1 1111.3,727.5 1113.6,729.0 1115.8,730.4 1118.0,731.8 1120.2,733.2 1122.4,734.6 1124.6,736.0 1126.9,737.4 1129.1,738.8 1131.3,740.2 1133.5,741.5 1135.7,742.9 1137.9,744.2 1140.2,745.5 1142.4,746.8 1144.6,748.1 1146.8,749.4 1149.0,750.7 1151.2,751.9 1153.5,753.2 1155.7,754.4 1157.9,755.6 1160.1,756.8 1162.3,758.1 1164.5,759.2 1166.8,760.4 1169.0,761.6 1171.2,762.7 1173.4,763.9 1175.6,765.0 1177.8,766.1 1180.1,767.3 1182.3,768.4 1184.5,769.4 1186.7,770.5 1188.9,771.6 1191.1,772.6 1193.4,773.7 1195.6,774.7 1197.8,775.7 1200.0,776.7 1202.2,777.7 1204.4,778.7 1206.7,779.7 1208.9,780.6 1211.1,781.6 1213.3,782.5 1215.5,783.4 1217.7,784.4 1220.0,785.3 1222.2,786.2 1224.4,787.0 1226.6,787.9 1228.8,788.8 1231.0,789.6 1233.2,790.5 1235.5,791.3 1237.7,792.1 1239.9,792.9 1242.1,793.7 1244.3,794.5 1246.5,795.3 1248.8,796.1 1251.0,796.8 1253.2,797.6 1255.4,798.3 1257.6,799.1 1259.8,799.8 1262.1,800.5 1264.3,801.2 1266.5,801.9 1268.7,802.6 1270.9,803.3 1273.1,803.9 1275.4,804.6 1277.6,805.2 1279.8,805.9 1282.0,806.5 1284.2,807.1 1286.4,807.8 1288.7,808.4 1290.9,809.0 1293.1,809.6 1295.3,810.1 1297.5,810.7 1299.7,811.3 1302.0,811.9 1304.2,812.4 1306.4,813.0 1308.6,813.5 1310.8,814.0 1313.0,814.6 1315.3,815.1 1317.5,815.6 1319.7,816.1 1321.9,816.6 1324.1,817.1 1326.3,817.6 1328.6,818.0 1330.8,818.5 1333.0,819.0 1335.2,819.4 1337.4,819.9 1339.6,820.3 1341.9,820.8 1344.1,821.2 1346.3,821.6 1348.5,822.0 1350.7,822.5 1352.9,822.9 1355.2,823.3 1357.4,823.7 1359.6,824.1 1361.8,824.5 1364.0,824.8 1366.2,825.2 1368.5,825.6 1370.7,825.9 1372.9,826.3 1375.1,826.7 1377.3,827.0 1379.5,827.4 1381.8,827.7 1384.0,828.0 1386.2,828.4 1388.4,828.7 1390.6,829.0 1392.8,829.3 1395.1,829.7 1397.3,830.0 1399.5,830.3 1401.7,830.6 1403.9,830.9 1406.1,831.2 1408.4,831.4 1410.6,831.7 1412.8,832.0 1415.0,832.3 1417.2,832.6 1419.4,832.8 1421.7,833.1 1423.9,833.4 1426.1,833.6 1428.3,833.9 1430.5,834.1 1432.7,834.4 1435.0,834.6 1437.2,834.8 1439.4,835.1 1441.6,835.3 1443.8,835.5 1446.0,835.8 1448.3,836.0 1450.5,836.2 1452.7,836.4 1454.9,836.6 1457.1,836.8 1459.3,837.1 1461.6,837.3 1463.8,837.5 1466.0,837.7 1468.2,837.9 1470.4,838.1 1472.6,838.2 1474.9,838.4 1477.1,838.6 1479.3,838.8 1481.5,839.0 1483.7,839.2 1485.9,839.3 1488.1,839.5 1490.4,839.7 1492.6,839.8 1494.8,840.0 1497.0,840.2 1499.2,840.3 1501.4,840.5 1503.7,840.6 1505.9,840.8 1508.1,840.9 1510.3,841.1 1512.5,841.2 1514.7,841.4 1517.0,841.5 1519.2,841.7 1521.4,841.8 1523.6,841.9 1525.8,842.1 1528.0,842.2 1530.3,842.3 1532.5,842.5 1534.7,842.6 1536.9,842.7 1539.1,842.9 1541.3,843.0 1543.6,843.1 1545.8,843.2 1548.0,843.3 1550.2,843.4 1552.4,843.6 1554.6,843.7 1556.9,843.8 1559.1,843.9 1561.3,844.0 1563.5,844.1 1565.7,844.2 1567.9,844.3 1570.2,844.4 1572.4,844.5 1574.6,844.6 1576.8,844.7 1579.0,844.8 1581.2,844.9 1583.5,845.0 1585.7,845.1 1587.9,845.2 1590.1,845.3 1592.3,845.4 1594.5,845.4 1596.8,845.5 1599.0,845.6 1601.2,845.7 1603.4,845.8 1605.6,845.9 1607.8,845.9 1610.1,846.0 1612.3,846.1 1614.5,846.2 1616.7,846.2 1618.9,846.3 1621.1,846.4 1623.4,846.5 1625.6,846.5 1627.8,846.6 1630.0,846.7 1632.2,846.7 1634.4,846.8 1636.7,846.9 1638.9,846.9 1641.1,847.0 1643.3,847.1 1645.5,847.1 1647.7,847.2 1650.0,847.2 1652.2,847.3 1654.4,847.4 1656.6,847.4 1658.8,847.5 1661.0,847.5 1663.3,847.6 1665.5,847.6 1667.7,847.7 1669.9,847.7 1672.1,847.8 1674.3,847.9 1676.6,847.9 1678.8,848.0 1681.0,848.0 1683.2,848.0 1685.4,848.1 1687.6,848.1 1689.9,848.2 1692.1,848.2 1694.3,848.3 1696.5,848.3 1698.7,848.4 1700.9,848.4 1703.2,848.5 1705.4,848.5 1707.6,848.5 1709.8,848.6 1712.0,848.6 1714.2,848.7 1716.5,848.7 1718.7,848.7 1720.9,848.8 1723.1,848.8 1725.3,848.9 1727.5,848.9 1729.8,848.9 1732.0,849.0 1734.2,849.0 1736.4,849.0 1738.6,849.1 1740.8,849.1 1743.0,849.1 1745.3,849.2 1747.5,849.2 1749.7,849.2 1751.9,849.3 1754.1,849.3 1756.3,849.3 1758.6,849.3 1760.8,849.4 1763.0,849.4 1765.2,849.4 1767.4,849.5 1769.6,849.5 1771.9,849.5 1774.1,849.5 1776.3,849.6 1778.5,849.6 1780.7,849.6 1782.9,849.6 1785.2,849.7 1787.4,849.7 1789.6,849.7 1791.8,849.7 1794.0,849.8 1796.2,849.8 1798.5,849.8 1800.7,849.8 1802.9,849.9 1805.1,849.9 1807.3,849.9 1809.5,849.9 1811.8,849.9 1814.0,850.0 1816.2,850.0 1818.4,850.0 1820.6,850.0 1822.8,850.0 1825.1,850.1 1827.3,850.1 1829.5,850.1 1831.7,850.1 1833.9,850.1 1836.1,850.2 1838.4,850.2 1840.6,850.2 1842.8,850.2 1845.0,850.2 1847.2,850.2 1849.4,850.3 1851.7,850.3 1853.9,850.3 1856.1,850.3 1858.3,850.3 1860.5,850.3 1862.7,850.4 1865.0,850.4 1867.2,850.4 1869.4,850.4 1871.6,850.4 1873.8,850.4 1876.0,850.4 1878.3,850.5 1880.5,850.5 1882.7,850.5 1884.9,850.5 1887.1,850.5 1889.3,850.5 1891.6,850.5 1893.8,850.5 1896.0,850.6 1898.2,850.6 1900.4,850.6 1902.6,850.6 1904.9,850.6 1907.1,850.6 1909.3,850.6 1911.5,850.6 1913.7,850.7 1915.9,850.7 1918.2,850.7 1920.4,850.7 1922.6,850.7 1924.8,850.7 1927.0,850.7 1929.2,850.7 1931.5,850.7 1933.7,850.7 1935.9,850.8 1938.1,850.8 1940.3,850.8 1942.5,850.8 1944.8,850.8 1947.0,850.8 1949.2,850.8 1951.4,850.8 1953.6,850.8 1955.8,850.8 1958.1,850.8 1960.3,850.8 1962.5,850.9 1964.7,850.9 1966.9,850.9 1969.1,850.9 1971.4,850.9 1973.6,850.9 1975.8,850.9 1978.0,850.9 1980.2,850.9 1982.4,850.9 1984.7,850.9 1986.9,850.9 1989.1,850.9 1991.3,850.9" stroke="#ff0000" stroke-width="2.8" fill="none" stroke-linejoin="round" clip-path="url(#cbot)"/>
<path d="M220.3,238.5 222.5,238.0 224.7,237.5 226.9,237.0 229.2,236.4 231.4,235.9 233.6,235.4 235.8,234.9 238.0,234.4 240.2,233.9 242.5,233.3 244.7,232.8 246.9,232.3 249.1,231.8 251.3,231.3 253.5,230.8 255.8,230.3 258.0,229.7 260.2,229.2 262.4,228.7 264.6,228.2 266.8,227.7 269.1,227.2 271.3,226.6 273.5,226.1 275.7,225.6 277.9,225.1 280.1,224.6 282.4,224.1 284.6,223.6 286.8,223.0 289.0,222.5 291.2,222.0 293.4,221.5 295.7,221.0 297.9,220.5 300.1,220.0 302.3,219.4 304.5,218.9 306.7,218.4 309.0,217.9 311.2,217.4 313.4,216.9 315.6,216.3 317.8,215.8 320.0,215.3 322.3,214.8 324.5,214.3 326.7,213.8 328.9,213.3 331.1,212.7 333.3,212.2 335.6,211.7 337.8,211.2 340.0,210.7 342.2,210.2 344.4,209.7 346.6,209.1 348.9,208.6 351.1,208.1 353.3,207.6 355.5,207.1 357.7,206.6 359.9,206.1 362.2,205.5 364.4,205.0 366.6,204.5 368.8,204.0 371.0,203.5 373.2,203.0 375.5,202.5 377.7,201.9 379.9,201.4 382.1,200.9 384.3,200.4 386.5,199.9 388.8,199.4 391.0,198.9 393.2,198.3 395.4,197.8 397.6,197.3 399.8,196.8 402.1,196.3 404.3,195.8 406.5,195.3 408.7,194.7 410.9,194.2 413.1,193.7 415.4,193.2 417.6,192.7 419.8,192.2 422.0,191.7 424.2,191.2 426.4,190.6 428.7,190.1 430.9,189.6 433.1,189.1 435.3,188.6 437.5,188.1 439.7,187.6 442.0,187.1 444.2,186.5 446.4,186.0 448.6,185.5 450.8,185.0 453.0,184.5 455.3,184.0 457.5,183.5 459.7,183.0 461.9,182.5 464.1,181.9 466.3,181.4 468.6,180.9 470.8,180.4 473.0,179.9 475.2,179.4 477.4,178.9 479.6,178.4 481.8,177.9 484.1,177.4 486.3,176.9 488.5,176.4 490.7,175.9 492.9,175.4 495.1,174.9 497.4,174.4 499.6,173.9 501.8,173.4 504.0,172.9 506.2,172.4 508.4,171.9 510.7,171.4 512.9,170.9 515.1,170.4 517.3,169.9 519.5,169.4 521.7,168.9 524.0,168.4 526.2,167.9 528.4,167.4 530.6,166.9 532.8,166.4 535.0,165.9 537.3,165.4 539.5,164.9 541.7,164.4 543.9,163.9 546.1,163.4 548.3,162.9 550.6,162.4 552.8,161.9 555.0,161.4 557.2,160.9 559.4,160.4 561.6,159.9 563.9,159.4 566.1,159.0 568.3,158.5 570.5,158.0 572.7,157.5 574.9,157.0 577.2,156.5 579.4,156.0 581.6,155.5 583.8,155.0 586.0,154.6 588.2,154.1 590.5,153.6 592.7,153.1 594.9,152.6 597.1,152.1 599.3,151.6 601.5,151.2 603.8,150.7 606.0,150.2 608.2,149.7 610.4,149.2 612.6,148.8 614.8,148.3 617.1,147.8 619.3,147.3 621.5,146.9 623.7,146.4 625.9,145.9 628.1,145.4 630.4,145.0 632.6,144.5 634.8,144.0 637.0,143.6 639.2,143.1 641.4,142.6 643.7,142.2 645.9,141.7 648.1,141.2 650.3,140.8 652.5,140.3 654.7,139.9 657.0,139.4 659.2,138.9 661.4,138.5 663.6,138.0 665.8,137.6 668.0,137.1 670.3,136.7 672.5,136.2 674.7,135.8 676.9,135.4 679.1,134.9 681.3,134.5 683.6,134.0 685.8,133.6 688.0,133.2 690.2,132.7 692.4,132.3 694.6,131.9 696.9,131.4 699.1,131.0 701.3,130.6 703.5,130.2 705.7,129.8 707.9,129.3 710.2,128.9 712.4,128.5 714.6,128.1 716.8,127.7 719.0,127.3 721.2,126.9 723.5,126.5 725.7,126.1 727.9,125.7 730.1,125.3 732.3,124.9 734.5,124.5 736.7,124.1 739.0,123.8 741.2,123.4 743.4,123.0 745.6,122.6 747.8,122.3 750.0,121.9 752.3,121.5 754.5,121.2 756.7,120.8 758.9,120.5 761.1,120.1 763.3,119.8 765.6,119.4 767.8,119.1 770.0,118.7 772.2,118.4 774.4,118.1 776.6,117.7 778.9,117.4 781.1,117.1 783.3,116.8 785.5,116.4 787.7,116.1 789.9,115.8 792.2,115.5 794.4,115.2 796.6,114.9 798.8,114.6 801.0,114.3 803.2,114.0 805.5,113.8 807.7,113.5 809.9,113.2 812.1,112.9 814.3,112.7 816.5,112.4 818.8,112.1 821.0,111.9 823.2,111.6 825.4,111.4 827.6,111.1 829.8,110.9 832.1,110.6 834.3,110.4 836.5,110.2 838.7,109.9 840.9,109.7 843.1,109.5 845.4,109.3 847.6,109.1 849.8,108.9 852.0,108.6 854.2,108.4 856.4,108.2 858.7,108.0 860.9,107.9 863.1,107.7 865.3,107.5 867.5,107.3 869.7,107.1 872.0,106.9 874.2,106.8 876.4,106.6 878.6,106.4 880.8,106.3 883.0,106.1 885.3,105.9 887.5,105.8 889.7,105.6 891.9,105.5 894.1,105.3 896.3,105.2 898.6,105.1 900.8,104.9 903.0,104.8 905.2,104.7 907.4,104.5 909.6,104.4 911.9,104.3 914.1,104.2 916.3,104.1 918.5,103.9 920.7,103.8 922.9,103.7 925.2,103.6 927.4,103.5 929.6,103.4 931.8,103.3 934.0,103.2 936.2,103.1 938.5,103.0 940.7,102.9 942.9,102.8 945.1,102.8 947.3,102.7 949.5,102.6 951.8,102.5 954.0,102.4 956.2,102.3 958.4,102.3 960.6,102.2 962.8,102.1 965.1,102.1 967.3,102.0 969.5,101.9 971.7,101.9 973.9,101.8 976.1,101.7 978.4,101.7 980.6,101.6 982.8,101.6 985.0,101.5 987.2,101.5 989.4,101.4 991.6,101.3 993.9,101.3 996.1,101.3 998.3,101.2 1000.5,101.2 1002.7,101.1 1004.9,101.1 1007.2,101.0 1009.4,101.0 1011.6,100.9 1013.8,100.9 1016.0,100.9 1018.2,100.8 1020.5,100.8 1022.7,100.8 1024.9,100.7 1027.1,100.7 1029.3,100.7 1031.5,100.6 1033.8,100.6 1036.0,100.6 1038.2,100.5 1040.4,100.5 1042.6,100.5 1044.8,100.5 1047.1,100.4 1049.3,100.4 1051.5,100.4 1053.7,100.3 1055.9,100.3 1058.1,100.3 1060.4,100.3 1062.6,100.3 1064.8,100.2 1067.0,100.2 1069.2,100.2 1071.4,100.2 1073.7,100.2 1075.9,100.1 1078.1,100.1 1080.3,100.1 1082.5,100.1 1084.7,100.1 1087.0,100.1 1089.2,100.0 1091.4,100.0 1093.6,100.0 1095.8,100.0 1098.0,100.0 1100.3,100.0 1102.5,100.0 1104.7,99.9 1106.9,99.9 1109.1,99.9 1111.3,99.9 1113.6,99.9 1115.8,99.9 1118.0,99.9 1120.2,99.9 1122.4,99.9 1124.6,99.8 1126.9,99.8 1129.1,99.8 1131.3,99.8 1133.5,99.8 1135.7,99.8 1137.9,99.8 1140.2,99.8 1142.4,99.8 1144.6,99.8 1146.8,99.8 1149.0,99.8 1151.2,99.7 1153.5,99.7 1155.7,99.7 1157.9,99.7 1160.1,99.7 1162.3,99.7 1164.5,99.7 1166.8,99.7 1169.0,99.7 1171.2,99.7 1173.4,99.7 1175.6,99.7 1177.8,99.7 1180.1,99.7 1182.3,99.7 1184.5,99.7 1186.7,99.7 1188.9,99.6 1191.1,99.6 1193.4,99.6 1195.6,99.6 1197.8,99.6 1200.0,99.6 1202.2,99.6 1204.4,99.6 1206.7,99.6 1208.9,99.6 1211.1,99.6 1213.3,99.6 1215.5,99.6 1217.7,99.6 1220.0,99.6 1222.2,99.6 1224.4,99.6 1226.6,99.6 1228.8,99.6 1231.0,99.6 1233.2,99.6 1235.5,99.6 1237.7,99.6 1239.9,99.6 1242.1,99.6 1244.3,99.6 1246.5,99.6 1248.8,99.6 1251.0,99.6 1253.2,99.6 1255.4,99.6 1257.6,99.6 1259.8,99.6 1262.1,99.6 1264.3,99.6 1266.5,99.6 1268.7,99.6 1270.9,99.6 1273.1,99.6 1275.4,99.5 1277.6,99.5 1279.8,99.5 1282.0,99.5 1284.2,99.5 1286.4,99.5 1288.7,99.5 1290.9,99.5 1293.1,99.5 1295.3,99.5 1297.5,99.5 1299.7,99.5 1302.0,99.5 1304.2,99.5 1306.4,99.5 1308.6,99.5 1310.8,99.5 1313.0,99.5 1315.3,99.5 1317.5,99.5 1319.7,99.5 1321.9,99.5 1324.1,99.5 1326.3,99.5 1328.6,99.5 1330.8,99.5 1333.0,99.5 1335.2,99.5 1337.4,99.5 1339.6,99.5 1341.9,99.5 1344.1,99.5 1346.3,99.5 1348.5,99.5 1350.7,99.5 1352.9,99.5 1355.2,99.5 1357.4,99.5 1359.6,99.5 1361.8,99.5 1364.0,99.5 1366.2,99.5 1368.5,99.5 1370.7,99.5 1372.9,99.5 1375.1,99.5 1377.3,99.5 1379.5,99.5 1381.8,99.5 1384.0,99.5 1386.2,99.5 1388.4,99.5 1390.6,99.5 1392.8,99.5 1395.1,99.5 1397.3,99.5 1399.5,99.5 1401.7,99.5 1403.9,99.5 1406.1,99.5 1408.4,99.5 1410.6,99.5 1412.8,99.5 1415.0,99.5 1417.2,99.5 1419.4,99.5 1421.7,99.5 1423.9,99.5 1426.1,99.5 1428.3,99.5 1430.5,99.5 1432.7,99.5 1435.0,99.5 1437.2,99.5 1439.4,99.5 1441.6,99.5 1443.8,99.5 1446.0,99.5 1448.3,99.5 1450.5,99.5 1452.7,99.5 1454.9,99.5 1457.1,99.5 1459.3,99.5 1461.6,99.5 1463.8,99.5 1466.0,99.5 1468.2,99.5 1470.4,99.5 1472.6,99.5 1474.9,99.5 1477.1,99.5 1479.3,99.5 1481.5,99.5 1483.7,99.5 1485.9,99.5 1488.1,99.5 1490.4,99.5 1492.6,99.5 1494.8,99.5 1497.0,99.5 1499.2,99.5 1501.4,99.5 1503.7,99.5 1505.9,99.5 1508.1,99.5 1510.3,99.5 1512.5,99.5 1514.7,99.5 1517.0,99.5 1519.2,99.5 1521.4,99.5 1523.6,99.5 1525.8,99.5 1528.0,99.5 1530.3,99.5 1532.5,99.5 1534.7,99.5 1536.9,99.5 1539.1,99.5 1541.3,99.5 1543.6,99.5 1545.8,99.5 1548.0,99.5 1550.2,99.5 1552.4,99.5 1554.6,99.5 1556.9,99.5 1559.1,99.5 1561.3,99.5 1563.5,99.5 1565.7,99.5 1567.9,99.5 1570.2,99.5 1572.4,99.5 1574.6,99.5 1576.8,99.5 1579.0,99.5 1581.2,99.5 1583.5,99.5 1585.7,99.5 1587.9,99.5 1590.1,99.5 1592.3,99.5 1594.5,99.5 1596.8,99.5 1599.0,99.5 1601.2,99.5 1603.4,99.5 1605.6,99.5 1607.8,99.5 1610.1,99.5 1612.3,99.5 1614.5,99.5 1616.7,99.5 1618.9,99.5 1621.1,99.5 1623.4,99.5 1625.6,99.5 1627.8,99.5 1630.0,99.5 1632.2,99.5 1634.4,99.5 1636.7,99.5 1638.9,99.5 1641.1,99.5 1643.3,99.5 1645.5,99.5 1647.7,99.5 1650.0,99.5 1652.2,99.5 1654.4,99.5 1656.6,99.5 1658.8,99.5 1661.0,99.5 1663.3,99.5 1665.5,99.5 1667.7,99.5 1669.9,99.5 1672.1,99.5 1674.3,99.5 1676.6,99.5 1678.8,99.5 1681.0,99.5 1683.2,99.5 1685.4,99.5 1687.6,99.5 1689.9,99.5 1692.1,99.5 1694.3,99.5 1696.5,99.5 1698.7,99.5 1700.9,99.5 1703.2,99.5 1705.4,99.5 1707.6,99.5 1709.8,99.5 1712.0,99.5 1714.2,99.5 1716.5,99.5 1718.7,99.5 1720.9,99.5 1723.1,99.5 1725.3,99.5 1727.5,99.5 1729.8,99.5 1732.0,99.5 1734.2,99.5 1736.4,99.5 1738.6,99.5 1740.8,99.5 1743.0,99.5 1745.3,99.5 1747.5,99.5 1749.7,99.5 1751.9,99.5 1754.1,99.5 1756.3,99.5 1758.6,99.5 1760.8,99.5 1763.0,99.5 1765.2,99.5 1767.4,99.5 1769.6,99.5 1771.9,99.5 1774.1,99.5 1776.3,99.5 1778.5,99.5 1780.7,99.5 1782.9,99.5 1785.2,99.5 1787.4,99.5 1789.6,99.5 1791.8,99.5 1794.0,99.5 1796.2,99.5 1798.5,99.5 1800.7,99.5 1802.9,99.5 1805.1,99.5 1807.3,99.5 1809.5,99.5 1811.8,99.5 1814.0,99.5 1816.2,99.5 1818.4,99.5 1820.6,99.5 1822.8,99.5 1825.1,99.5 1827.3,99.5 1829.5,99.5 1831.7,99.5 1833.9,99.5 1836.1,99.5 1838.4,99.5 1840.6,99.5 1842.8,99.5 1845.0,99.5 1847.2,99.5 1849.4,99.5 1851.7,99.5 1853.9,99.5 1856.1,99.5 1858.3,99.5 1860.5,99.5 1862.7,99.5 1865.0,99.5 1867.2,99.5 1869.4,99.5 1871.6,99.5 1873.8,99.5 1876.0,99.5 1878.3,99.5 1880.5,99.5 1882.7,99.5 1884.9,99.5 1887.1,99.5 1889.3,99.5 1891.6,99.5 1893.8,99.5 1896.0,99.5 1898.2,99.5 1900.4,99.5 1902.6,99.5 1904.9,99.5 1907.1,99.5 1909.3,99.5 1911.5,99.5 1913.7,99.5 1915.9,99.5 1918.2,99.5 1920.4,99.5 1922.6,99.5 1924.8,99.5 1927.0,99.5 1929.2,99.5 1931.5,99.5 1933.7,99.5 1935.9,99.5 1938.1,99.5 1940.3,99.5 1942.5,99.5 1944.8,99.5 1947.0,99.5 1949.2,99.5 1951.4,99.5 1953.6,99.5 1955.8,99.5 1958.1,99.5 1960.3,99.5 1962.5,99.5 1964.7,99.5 1966.9,99.5 1969.1,99.5 1971.4,99.5 1973.6,99.5 1975.8,99.5 1978.0,99.5 1980.2,99.5 1982.4,99.5 1984.7,99.5 1986.9,99.5 1989.1,99.5 1991.3,99.5" stroke="#00bfbf" stroke-width="2.8" fill="none" stroke-linejoin="round" clip-path="url(#ctop)"/>
<path d="M220.3,497.9 222.5,498.0 224.7,498.0 226.9,498.1 229.2,498.2 231.4,498.2 233.6,498.3 235.8,498.4 238.0,498.5 240.2,498.5 242.5,498.6 244.7,498.7 246.9,498.8 249.1,498.8 251.3,498.9 253.5,499.0 255.8,499.1 258.0,499.2 260.2,499.3 262.4,499.3 264.6,499.4 266.8,499.5 269.1,499.6 271.3,499.7 273.5,499.8 275.7,499.9 277.9,500.0 280.1,500.1 282.4,500.2 284.6,500.3 286.8,500.4 289.0,500.5 291.2,500.6 293.4,500.7 295.7,500.8 297.9,500.9 300.1,501.0 302.3,501.1 304.5,501.2 306.7,501.4 309.0,501.5 311.2,501.6 313.4,501.7 315.6,501.8 317.8,502.0 320.0,502.1 322.3,502.2 324.5,502.3 326.7,502.5 328.9,502.6 331.1,502.7 333.3,502.9 335.6,503.0 337.8,503.2 340.0,503.3 342.2,503.4 344.4,503.6 346.6,503.7 348.9,503.9 351.1,504.0 353.3,504.2 355.5,504.4 357.7,504.5 359.9,504.7 362.2,504.8 364.4,505.0 366.6,505.2 368.8,505.4 371.0,505.5 373.2,505.7 375.5,505.9 377.7,506.1 379.9,506.3 382.1,506.4 384.3,506.6 386.5,506.8 388.8,507.0 391.0,507.2 393.2,507.4 395.4,507.6 397.6,507.8 399.8,508.0 402.1,508.3 404.3,508.5 406.5,508.7 408.7,508.9 410.9,509.1 413.1,509.4 415.4,509.6 417.6,509.8 419.8,510.1 422.0,510.3 424.2,510.6 426.4,510.8 428.7,511.1 430.9,511.3 433.1,511.6 435.3,511.9 437.5,512.1 439.7,512.4 442.0,512.7 444.2,513.0 446.4,513.2 448.6,513.5 450.8,513.8 453.0,514.1 455.3,514.4 457.5,514.7 459.7,515.0 461.9,515.3 464.1,515.7 466.3,516.0 468.6,516.3 470.8,516.6 473.0,517.0 475.2,517.3 477.4,517.7 479.6,518.0 481.8,518.4 484.1,518.7 486.3,519.1 488.5,519.5 490.7,519.8 492.9,520.2 495.1,520.6 497.4,521.0 499.6,521.4 501.8,521.8 504.0,522.2 506.2,522.6 508.4,523.1 510.7,523.5 512.9,523.9 515.1,524.3 517.3,524.8 519.5,525.2 521.7,525.7 524.0,526.2 526.2,526.6 528.4,527.1 530.6,527.6 532.8,528.1 535.0,528.6 537.3,529.1 539.5,529.6 541.7,530.1 543.9,530.6 546.1,531.2 548.3,531.7 550.6,532.3 552.8,532.8 555.0,533.4 557.2,533.9 559.4,534.5 561.6,535.1 563.9,535.7 566.1,536.3 568.3,536.9 570.5,537.5 572.7,538.2 574.9,538.8 577.2,539.4 579.4,540.1 581.6,540.7 583.8,541.4 586.0,542.1 588.2,542.8 590.5,543.5 592.7,544.2 594.9,544.9 597.1,545.6 599.3,546.4 601.5,547.1 603.8,547.8 606.0,548.6 608.2,549.4 610.4,550.2 612.6,551.0 614.8,551.8 617.1,552.6 619.3,553.4 621.5,554.2 623.7,555.1 625.9,555.9 628.1,556.8 630.4,557.7 632.6,558.5 634.8,559.4 637.0,560.3 639.2,561.3 641.4,562.2 643.7,563.1 645.9,564.1 648.1,565.0 650.3,566.0 652.5,567.0 654.7,568.0 657.0,569.0 659.2,570.0 661.4,571.0 663.6,572.1 665.8,573.1 668.0,574.2 670.3,575.3 672.5,576.4 674.7,577.5 676.9,578.6 679.1,579.7 681.3,580.9 683.6,582.0 685.8,583.2 688.0,584.3 690.2,585.5 692.4,586.7 694.6,587.9 696.9,589.2 699.1,590.4 701.3,591.6 703.5,592.9 705.7,594.2 707.9,595.4 710.2,596.7 712.4,598.0 714.6,599.3 716.8,600.7 719.0,602.0 721.2,603.4 723.5,604.7 725.7,606.1 727.9,607.5 730.1,608.9 732.3,610.3 734.5,611.7 736.7,613.1 739.0,614.5 741.2,616.0 743.4,617.4 745.6,618.9 747.8,620.4 750.0,621.9 752.3,623.4 754.5,624.9 756.7,626.4 758.9,627.9 761.1,629.4 763.3,631.0 765.6,632.5 767.8,634.1 770.0,635.6 772.2,637.2 774.4,638.8 776.6,640.3 778.9,641.9 781.1,643.5 783.3,645.1 785.5,646.7 787.7,648.4 789.9,650.0 792.2,651.6 794.4,653.2 796.6,654.9 798.8,656.5 801.0,658.1 803.2,659.8 805.5,661.4 807.7,663.1 809.9,664.7 812.1,666.4 814.3,668.0 816.5,669.7 818.8,671.3 821.0,673.0 823.2,674.6 825.4,676.3 827.6,677.9 829.8,679.5 832.1,681.1 834.3,682.8 836.5,684.4 838.7,686.0 840.9,687.6 843.1,689.2 845.4,690.8 847.6,692.5 849.8,694.1 852.0,695.7 854.2,697.3 856.4,698.9 858.7,700.4 860.9,702.0 863.1,703.6 865.3,705.2 867.5,706.7 869.7,708.3 872.0,709.8 874.2,711.4 876.4,712.9 878.6,714.4 880.8,716.0 883.0,717.5 885.3,719.0 887.5,720.5 889.7,722.0 891.9,723.4 894.1,724.9 896.3,726.4 898.6,727.8 900.8,729.3 903.0,730.7 905.2,732.1 907.4,733.5 909.6,734.9 911.9,736.3 914.1,737.7 916.3,739.1 918.5,740.4 920.7,741.8 922.9,743.1 925.2,744.5 927.4,745.8 929.6,747.1 931.8,748.4 934.0,749.7 936.2,750.9 938.5,752.2 940.7,753.4 942.9,754.7 945.1,755.9 947.3,757.1 949.5,758.3 951.8,759.5 954.0,760.7 956.2,761.8 958.4,763.0 960.6,764.1 962.8,765.3 965.1,766.4 967.3,767.5 969.5,768.6 971.7,769.7 973.9,770.7 976.1,771.8 978.4,772.8 980.6,773.9 982.8,774.9 985.0,775.9 987.2,776.9 989.4,777.9 991.6,778.9 993.9,779.9 996.1,780.8 998.3,781.8 1000.5,782.7 1002.7,783.6 1004.9,784.5 1007.2,785.4 1009.4,786.3 1011.6,787.2 1013.8,788.1 1016.0,789.0 1018.2,789.8 1020.5,790.6 1022.7,791.5 1024.9,792.3 1027.1,793.1 1029.3,793.9 1031.5,794.7 1033.8,795.5 1036.0,796.2 1038.2,797.0 1040.4,797.7 1042.6,798.5 1044.8,799.2 1047.1,799.9 1049.3,800.6 1051.5,801.3 1053.7,802.0 1055.9,802.7 1058.1,803.4 1060.4,804.1 1062.6,804.7 1064.8,805.4 1067.0,806.0 1069.2,806.6 1071.4,807.3 1073.7,807.9 1075.9,808.5 1078.1,809.1 1080.3,809.7 1082.5,810.3 1084.7,810.8 1087.0,811.4 1089.2,812.0 1091.4,812.5 1093.6,813.1 1095.8,813.6 1098.0,814.1 1100.3,814.7 1102.5,815.2 1104.7,815.7 1106.9,816.2 1109.1,816.7 1111.3,817.2 1113.6,817.7 1115.8,818.1 1118.0,818.6 1120.2,819.1 1122.4,819.5 1124.6,820.0 1126.9,820.4 1129.1,820.9 1131.3,821.3 1133.5,821.7 1135.7,822.1 1137.9,822.5 1140.2,823.0 1142.4,823.4 1144.6,823.8 1146.8,824.1 1149.0,824.5 1151.2,824.9 1153.5,825.3 1155.7,825.7 1157.9,826.0 1160.1,826.4 1162.3,826.7 1164.5,827.1 1166.8,827.4 1169.0,827.8 1171.2,828.1 1173.4,828.4 1175.6,828.8 1177.8,829.1 1180.1,829.4 1182.3,829.7 1184.5,830.0 1186.7,830.3 1188.9,830.6 1191.1,830.9 1193.4,831.2 1195.6,831.5 1197.8,831.8 1200.0,832.1 1202.2,832.3 1204.4,832.6 1206.7,832.9 1208.9,833.1 1211.1,833.4 1213.3,833.7 1215.5,833.9 1217.7,834.2 1220.0,834.4 1222.2,834.7 1224.4,834.9 1226.6,835.1 1228.8,835.4 1231.0,835.6 1233.2,835.8 1235.5,836.0 1237.7,836.3 1239.9,836.5 1242.1,836.7 1244.3,836.9 1246.5,837.1 1248.8,837.3 1251.0,837.5 1253.2,837.7 1255.4,837.9 1257.6,838.1 1259.8,838.3 1262.1,838.5 1264.3,838.7 1266.5,838.8 1268.7,839.0 1270.9,839.2 1273.1,839.4 1275.4,839.5 1277.6,839.7 1279.8,839.9 1282.0,840.0 1284.2,840.2 1286.4,840.4 1288.7,840.5 1290.9,840.7 1293.1,840.8 1295.3,841.0 1297.5,841.1 1299.7,841.3 1302.0,841.4 1304.2,841.6 1306.4,841.7 1308.6,841.8 1310.8,842.0 1313.0,842.1 1315.3,842.2 1317.5,842.4 1319.7,842.5 1321.9,842.6 1324.1,842.8 1326.3,842.9 1328.6,843.0 1330.8,843.1 1333.0,843.2 1335.2,843.4 1337.4,843.5 1339.6,843.6 1341.9,843.7 1344.1,843.8 1346.3,843.9 1348.5,844.0 1350.7,844.1 1352.9,844.2 1355.2,844.3 1357.4,844.4 1359.6,844.5 1361.8,844.6 1364.0,844.7 1366.2,844.8 1368.5,844.9 1370.7,845.0 1372.9,845.1 1375.1,845.2 1377.3,845.3 1379.5,845.4 1381.8,845.5 1384.0,845.5 1386.2,845.6 1388.4,845.7 1390.6,845.8 1392.8,845.9 1395.1,845.9 1397.3,846.0 1399.5,846.1 1401.7,846.2 1403.9,846.3 1406.1,846.3 1408.4,846.4 1410.6,846.5 1412.8,846.5 1415.0,846.6 1417.2,846.7 1419.4,846.7 1421.7,846.8 1423.9,846.9 1426.1,846.9 1428.3,847.0 1430.5,847.1 1432.7,847.1 1435.0,847.2 1437.2,847.3 1439.4,847.3 1441.6,847.4 1443.8,847.4 1446.0,847.5 1448.3,847.5 1450.5,847.6 1452.7,847.7 1454.9,847.7 1457.1,847.8 1459.3,847.8 1461.6,847.9 1463.8,847.9 1466.0,848.0 1468.2,848.0 1470.4,848.1 1472.6,848.1 1474.9,848.2 1477.1,848.2 1479.3,848.2 1481.5,848.3 1483.7,848.3 1485.9,848.4 1488.1,848.4 1490.4,848.5 1492.6,848.5 1494.8,848.5 1497.0,848.6 1499.2,848.6 1501.4,848.7 1503.7,848.7 1505.9,848.7 1508.1,848.8 1510.3,848.8 1512.5,848.9 1514.7,848.9 1517.0,848.9 1519.2,849.0 1521.4,849.0 1523.6,849.0 1525.8,849.1 1528.0,849.1 1530.3,849.1 1532.5,849.2 1534.7,849.2 1536.9,849.2 1539.1,849.3 1541.3,849.3 1543.6,849.3 1545.8,849.4 1548.0,849.4 1550.2,849.4 1552.4,849.4 1554.6,849.5 1556.9,849.5 1559.1,849.5 1561.3,849.5 1563.5,849.6 1565.7,849.6 1567.9,849.6 1570.2,849.7 1572.4,849.7 1574.6,849.7 1576.8,849.7 1579.0,849.8 1581.2,849.8 1583.5,849.8 1585.7,849.8 1587.9,849.8 1590.1,849.9 1592.3,849.9 1594.5,849.9 1596.8,849.9 1599.0,850.0 1601.2,850.0 1603.4,850.0 1605.6,850.0 1607.8,850.0 1610.1,850.1 1612.3,850.1 1614.5,850.1 1616.7,850.1 1618.9,850.1 1621.1,850.1 1623.4,850.2 1625.6,850.2 1627.8,850.2 1630.0,850.2 1632.2,850.2 1634.4,850.2 1636.7,850.3 1638.9,850.3 1641.1,850.3 1643.3,850.3 1645.5,850.3 1647.7,850.3 1650.0,850.4 1652.2,850.4 1654.4,850.4 1656.6,850.4 1658.8,850.4 1661.0,850.4 1663.3,850.4 1665.5,850.5 1667.7,850.5 1669.9,850.5 1672.1,850.5 1674.3,850.5 1676.6,850.5 1678.8,850.5 1681.0,850.6 1683.2,850.6 1685.4,850.6 1687.6,850.6 1689.9,850.6 1692.1,850.6 1694.3,850.6 1696.5,850.6 1698.7,850.6 1700.9,850.7 1703.2,850.7 1705.4,850.7 1707.6,850.7 1709.8,850.7 1712.0,850.7 1714.2,850.7 1716.5,850.7 1718.7,850.7 1720.9,850.7 1723.1,850.8 1725.3,850.8 1727.5,850.8 1729.8,850.8 1732.0,850.8 1734.2,850.8 1736.4,850.8 1738.6,850.8 1740.8,850.8 1743.0,850.8 1745.3,850.8 1747.5,850.8 1749.7,850.9 1751.9,850.9 1754.1,850.9 1756.3,850.9 1758.6,850.9 1760.8,850.9 1763.0,850.9 1765.2,850.9 1767.4,850.9 1769.6,850.9 1771.9,850.9 1774.1,850.9 1776.3,850.9 1778.5,850.9 1780.7,851.0 1782.9,851.0 1785.2,851.0 1787.4,851.0 1789.6,851.0 1791.8,851.0 1794.0,851.0 1796.2,851.0 1798.5,851.0 1800.7,851.0 1802.9,851.0 1805.1,851.0 1807.3,851.0 1809.5,851.0 1811.8,851.0 1814.0,851.0 1816.2,851.0 1818.4,851.1 1820.6,851.1 1822.8,851.1 1825.1,851.1 1827.3,851.1 1829.5,851.1 1831.7,851.1 1833.9,851.1 1836.1,851.1 1838.4,851.1 1840.6,851.1 1842.8,851.1 1845.0,851.1 1847.2,851.1 1849.4,851.1 1851.7,851.1 1853.9,851.1 1856.1,851.1 1858.3,851.1 1860.5,851.1 1862.7,851.1 1865.0,851.1 1867.2,851.1 1869.4,851.2 1871.6,851.2 1873.8,851.2 1876.0,851.2 1878.3,851.2 1880.5,851.2 1882.7,851.2 1884.9,851.2 1887.1,851.2 1889.3,851.2 1891.6,851.2 1893.8,851.2 1896.0,851.2 1898.2,851.2 1900.4,851.2 1902.6,851.2 1904.9,851.2 1907.1,851.2 1909.3,851.2 1911.5,851.2 1913.7,851.2 1915.9,851.2 1918.2,851.2 1920.4,851.2 1922.6,851.2 1924.8,851.2 1927.0,851.2 1929.2,851.2 1931.5,851.2 1933.7,851.2 1935.9,851.2 1938.1,851.2 1940.3,851.2 1942.5,851.2 1944.8,851.2 1947.0,851.2 1949.2,851.3 1951.4,851.3 1953.6,851.3 1955.8,851.3 1958.1,851.3 1960.3,851.3 1962.5,851.3 1964.7,851.3 1966.9,851.3 1969.1,851.3 1971.4,851.3 1973.6,851.3 1975.8,851.3 1978.0,851.3 1980.2,851.3 1982.4,851.3 1984.7,851.3 1986.9,851.3 1989.1,851.3 1991.3,851.3" stroke="#00bfbf" stroke-width="2.8" fill="none" stroke-linejoin="round" clip-path="url(#cbot)"/>
<path d="M220.3,205.7 222.5,205.2 224.7,204.7 226.9,204.2 229.2,203.7 231.4,203.2 233.6,202.7 235.8,202.2 238.0,201.6 240.2,201.1 242.5,200.6 244.7,200.1 246.9,199.6 249.1,199.1 251.3,198.6 253.5,198.0 255.8,197.5 258.0,197.0 260.2,196.5 262.4,196.0 264.6,195.5 266.8,195.0 269.1,194.4 271.3,193.9 273.5,193.4 275.7,192.9 277.9,192.4 280.1,191.9 282.4,191.4 284.6,190.9 286.8,190.3 289.0,189.8 291.2,189.3 293.4,188.8 295.7,188.3 297.9,187.8 300.1,187.3 302.3,186.8 304.5,186.2 306.7,185.7 309.0,185.2 311.2,184.7 313.4,184.2 315.6,183.7 317.8,183.2 320.0,182.7 322.3,182.2 324.5,181.6 326.7,181.1 328.9,180.6 331.1,180.1 333.3,179.6 335.6,179.1 337.8,178.6 340.0,178.1 342.2,177.6 344.4,177.1 346.6,176.6 348.9,176.1 351.1,175.6 353.3,175.1 355.5,174.6 357.7,174.1 359.9,173.6 362.2,173.1 364.4,172.6 366.6,172.1 368.8,171.6 371.0,171.1 373.2,170.6 375.5,170.1 377.7,169.6 379.9,169.1 382.1,168.6 384.3,168.1 386.5,167.6 388.8,167.1 391.0,166.6 393.2,166.1 395.4,165.6 397.6,165.1 399.8,164.6 402.1,164.1 404.3,163.6 406.5,163.1 408.7,162.6 410.9,162.1 413.1,161.6 415.4,161.1 417.6,160.6 419.8,160.1 422.0,159.6 424.2,159.2 426.4,158.7 428.7,158.2 430.9,157.7 433.1,157.2 435.3,156.7 437.5,156.2 439.7,155.7 442.0,155.2 444.2,154.7 446.4,154.3 448.6,153.8 450.8,153.3 453.0,152.8 455.3,152.3 457.5,151.8 459.7,151.4 461.9,150.9 464.1,150.4 466.3,149.9 468.6,149.4 470.8,149.0 473.0,148.5 475.2,148.0 477.4,147.5 479.6,147.0 481.8,146.6 484.1,146.1 486.3,145.6 488.5,145.2 490.7,144.7 492.9,144.2 495.1,143.7 497.4,143.3 499.6,142.8 501.8,142.4 504.0,141.9 506.2,141.4 508.4,141.0 510.7,140.5 512.9,140.0 515.1,139.6 517.3,139.1 519.5,138.7 521.7,138.2 524.0,137.8 526.2,137.3 528.4,136.9 530.6,136.4 532.8,136.0 535.0,135.5 537.3,135.1 539.5,134.7 541.7,134.2 543.9,133.8 546.1,133.3 548.3,132.9 550.6,132.5 552.8,132.0 555.0,131.6 557.2,131.2 559.4,130.8 561.6,130.3 563.9,129.9 566.1,129.5 568.3,129.1 570.5,128.7 572.7,128.3 574.9,127.9 577.2,127.5 579.4,127.1 581.6,126.7 583.8,126.3 586.0,125.9 588.2,125.5 590.5,125.1 592.7,124.7 594.9,124.3 597.1,123.9 599.3,123.5 601.5,123.2 603.8,122.8 606.0,122.4 608.2,122.0 610.4,121.7 612.6,121.3 614.8,121.0 617.1,120.6 619.3,120.3 621.5,119.9 623.7,119.6 625.9,119.2 628.1,118.9 630.4,118.5 632.6,118.2 634.8,117.9 637.0,117.5 639.2,117.2 641.4,116.9 643.7,116.6 645.9,116.3 648.1,116.0 650.3,115.6 652.5,115.3 654.7,115.0 657.0,114.7 659.2,114.5 661.4,114.2 663.6,113.9 665.8,113.6 668.0,113.3 670.3,113.0 672.5,112.8 674.7,112.5 676.9,112.2 679.1,112.0 681.3,111.7 683.6,111.5 685.8,111.2 688.0,111.0 690.2,110.7 692.4,110.5 694.6,110.3 696.9,110.0 699.1,109.8 701.3,109.6 703.5,109.4 705.7,109.2 707.9,108.9 710.2,108.7 712.4,108.5 714.6,108.3 716.8,108.1 719.0,107.9 721.2,107.7 723.5,107.5 725.7,107.4 727.9,107.2 730.1,107.0 732.3,106.8 734.5,106.7 736.7,106.5 739.0,106.3 741.2,106.2 743.4,106.0 745.6,105.9 747.8,105.7 750.0,105.6 752.3,105.4 754.5,105.3 756.7,105.1 758.9,105.0 761.1,104.8 763.3,104.7 765.6,104.6 767.8,104.5 770.0,104.3 772.2,104.2 774.4,104.1 776.6,104.0 778.9,103.9 781.1,103.8 783.3,103.7 785.5,103.5 787.7,103.4 789.9,103.3 792.2,103.2 794.4,103.1 796.6,103.1 798.8,103.0 801.0,102.9 803.2,102.8 805.5,102.7 807.7,102.6 809.9,102.5 812.1,102.5 814.3,102.4 816.5,102.3 818.8,102.2 821.0,102.2 823.2,102.1 825.4,102.0 827.6,102.0 829.8,101.9 832.1,101.8 834.3,101.8 836.5,101.7 838.7,101.6 840.9,101.6 843.1,101.5 845.4,101.5 847.6,101.4 849.8,101.4 852.0,101.3 854.2,101.3 856.4,101.2 858.7,101.2 860.9,101.1 863.1,101.1 865.3,101.0 867.5,101.0 869.7,101.0 872.0,100.9 874.2,100.9 876.4,100.8 878.6,100.8 880.8,100.8 883.0,100.7 885.3,100.7 887.5,100.7 889.7,100.6 891.9,100.6 894.1,100.6 896.3,100.5 898.6,100.5 900.8,100.5 903.0,100.5 905.2,100.4 907.4,100.4 909.6,100.4 911.9,100.4 914.1,100.3 916.3,100.3 918.5,100.3 920.7,100.3 922.9,100.2 925.2,100.2 927.4,100.2 929.6,100.2 931.8,100.2 934.0,100.1 936.2,100.1 938.5,100.1 940.7,100.1 942.9,100.1 945.1,100.1 947.3,100.0 949.5,100.0 951.8,100.0 954.0,100.0 956.2,100.0 958.4,100.0 960.6,100.0 962.8,99.9 965.1,99.9 967.3,99.9 969.5,99.9 971.7,99.9 973.9,99.9 976.1,99.9 978.4,99.9 980.6,99.9 982.8,99.8 985.0,99.8 987.2,99.8 989.4,99.8 991.6,99.8 993.9,99.8 996.1,99.8 998.3,99.8 1000.5,99.8 1002.7,99.8 1004.9,99.8 1007.2,99.8 1009.4,99.7 1011.6,99.7 1013.8,99.7 1016.0,99.7 1018.2,99.7 1020.5,99.7 1022.7,99.7 1024.9,99.7 1027.1,99.7 1029.3,99.7 1031.5,99.7 1033.8,99.7 1036.0,99.7 1038.2,99.7 1040.4,99.7 1042.6,99.7 1044.8,99.7 1047.1,99.7 1049.3,99.6 1051.5,99.6 1053.7,99.6 1055.9,99.6 1058.1,99.6 1060.4,99.6 1062.6,99.6 1064.8,99.6 1067.0,99.6 1069.2,99.6 1071.4,99.6 1073.7,99.6 1075.9,99.6 1078.1,99.6 1080.3,99.6 1082.5,99.6 1084.7,99.6 1087.0,99.6 1089.2,99.6 1091.4,99.6 1093.6,99.6 1095.8,99.6 1098.0,99.6 1100.3,99.6 1102.5,99.6 1104.7,99.6 1106.9,99.6 1109.1,99.6 1111.3,99.6 1113.6,99.6 1115.8,99.6 1118.0,99.6 1120.2,99.6 1122.4,99.6 1124.6,99.6 1126.9,99.6 1129.1,99.6 1131.3,99.6 1133.5,99.5 1135.7,99.5 1137.9,99.5 1140.2,99.5 1142.4,99.5 1144.6,99.5 1146.8,99.5 1149.0,99.5 1151.2,99.5 1153.5,99.5 1155.7,99.5 1157.9,99.5 1160.1,99.5 1162.3,99.5 1164.5,99.5 1166.8,99.5 1169.0,99.5 1171.2,99.5 1173.4,99.5 1175.6,99.5 1177.8,99.5 1180.1,99.5 1182.3,99.5 1184.5,99.5 1186.7,99.5 1188.9,99.5 1191.1,99.5 1193.4,99.5 1195.6,99.5 1197.8,99.5 1200.0,99.5 1202.2,99.5 1204.4,99.5 1206.7,99.5 1208.9,99.5 1211.1,99.5 1213.3,99.5 1215.5,99.5 1217.7,99.5 1220.0,99.5 1222.2,99.5 1224.4,99.5 1226.6,99.5 1228.8,99.5 1231.0,99.5 1233.2,99.5 1235.5,99.5 1237.7,99.5 1239.9,99.5 1242.1,99.5 1244.3,99.5 1246.5,99.5 1248.8,99.5 1251.0,99.5 1253.2,99.5 1255.4,99.5 1257.6,99.5 1259.8,99.5 1262.1,99.5 1264.3,99.5 1266.5,99.5 1268.7,99.5 1270.9,99.5 1273.1,99.5 1275.4,99.5 1277.6,99.5 1279.8,99.5 1282.0,99.5 1284.2,99.5 1286.4,99.5 1288.7,99.5 1290.9,99.5 1293.1,99.5 1295.3,99.5 1297.5,99.5 1299.7,99.5 1302.0,99.5 1304.2,99.5 1306.4,99.5 1308.6,99.5 1310.8,99.5 1313.0,99.5 1315.3,99.5 1317.5,99.5 1319.7,99.5 1321.9,99.5 1324.1,99.5 1326.3,99.5 1328.6,99.5 1330.8,99.5 1333.0,99.5 1335.2,99.5 1337.4,99.5 1339.6,99.5 1341.9,99.5 1344.1,99.5 1346.3,99.5 1348.5,99.5 1350.7,99.5 1352.9,99.5 1355.2,99.5 1357.4,99.5 1359.6,99.5 1361.8,99.5 1364.0,99.5 1366.2,99.5 1368.5,99.5 1370.7,99.5 1372.9,99.5 1375.1,99.5 1377.3,99.5 1379.5,99.5 1381.8,99.5 1384.0,99.5 1386.2,99.5 1388.4,99.5 1390.6,99.5 1392.8,99.5 1395.1,99.5 1397.3,99.5 1399.5,99.5 1401.7,99.5 1403.9,99.5 1406.1,99.5 1408.4,99.5 1410.6,99.5 1412.8,99.5 1415.0,99.5 1417.2,99.5 1419.4,99.5 1421.7,99.5 1423.9,99.5 1426.1,99.5 1428.3,99.5 1430.5,99.5 1432.7,99.5 1435.0,99.5 1437.2,99.5 1439.4,99.5 1441.6,99.5 1443.8,99.5 1446.0,99.5 1448.3,99.5 1450.5,99.5 1452.7,99.5 1454.9,99.5 1457.1,99.5 1459.3,99.5 1461.6,99.5 1463.8,99.5 1466.0,99.5 1468.2,99.5 1470.4,99.5 1472.6,99.5 1474.9,99.5 1477.1,99.5 1479.3,99.5 1481.5,99.5 1483.7,99.5 1485.9,99.5 1488.1,99.5 1490.4,99.5 1492.6,99.5 1494.8,99.5 1497.0,99.5 1499.2,99.5 1501.4,99.5 1503.7,99.5 1505.9,99.5 1508.1,99.5 1510.3,99.5 1512.5,99.5 1514.7,99.5 1517.0,99.5 1519.2,99.5 1521.4,99.5 1523.6,99.5 1525.8,99.5 1528.0,99.5 1530.3,99.5 1532.5,99.5 1534.7,99.5 1536.9,99.5 1539.1,99.5 1541.3,99.5 1543.6,99.5 1545.8,99.5 1548.0,99.5 1550.2,99.5 1552.4,99.5 1554.6,99.5 1556.9,99.5 1559.1,99.5 1561.3,99.5 1563.5,99.5 1565.7,99.5 1567.9,99.5 1570.2,99.5 1572.4,99.5 1574.6,99.5 1576.8,99.5 1579.0,99.5 1581.2,99.5 1583.5,99.5 1585.7,99.5 1587.9,99.5 1590.1,99.5 1592.3,99.5 1594.5,99.5 1596.8,99.5 1599.0,99.5 1601.2,99.5 1603.4,99.5 1605.6,99.5 1607.8,99.5 1610.1,99.5 1612.3,99.5 1614.5,99.5 1616.7,99.5 1618.9,99.5 1621.1,99.5 1623.4,99.5 1625.6,99.5 1627.8,99.5 1630.0,99.5 1632.2,99.5 1634.4,99.5 1636.7,99.5 1638.9,99.5 1641.1,99.5 1643.3,99.5 1645.5,99.5 1647.7,99.5 1650.0,99.5 1652.2,99.5 1654.4,99.5 1656.6,99.5 1658.8,99.5 1661.0,99.5 1663.3,99.5 1665.5,99.5 1667.7,99.5 1669.9,99.5 1672.1,99.5 1674.3,99.5 1676.6,99.5 1678.8,99.5 1681.0,99.5 1683.2,99.5 1685.4,99.5 1687.6,99.5 1689.9,99.5 1692.1,99.5 1694.3,99.5 1696.5,99.5 1698.7,99.5 1700.9,99.5 1703.2,99.5 1705.4,99.5 1707.6,99.5 1709.8,99.5 1712.0,99.5 1714.2,99.5 1716.5,99.5 1718.7,99.5 1720.9,99.5 1723.1,99.5 1725.3,99.5 1727.5,99.5 1729.8,99.5 1732.0,99.5 1734.2,99.5 1736.4,99.5 1738.6,99.5 1740.8,99.5 1743.0,99.5 1745.3,99.5 1747.5,99.5 1749.7,99.5 1751.9,99.5 1754.1,99.5 1756.3,99.5 1758.6,99.5 1760.8,99.5 1763.0,99.5 1765.2,99.5 1767.4,99.5 1769.6,99.5 1771.9,99.5 1774.1,99.5 1776.3,99.5 1778.5,99.5 1780.7,99.5 1782.9,99.5 1785.2,99.5 1787.4,99.5 1789.6,99.5 1791.8,99.5 1794.0,99.5 1796.2,99.5 1798.5,99.5 1800.7,99.5 1802.9,99.5 1805.1,99.5 1807.3,99.5 1809.5,99.5 1811.8,99.5 1814.0,99.5 1816.2,99.5 1818.4,99.5 1820.6,99.5 1822.8,99.5 1825.1,99.5 1827.3,99.5 1829.5,99.5 1831.7,99.5 1833.9,99.5 1836.1,99.5 1838.4,99.5 1840.6,99.5 1842.8,99.5 1845.0,99.5 1847.2,99.5 1849.4,99.5 1851.7,99.5 1853.9,99.5 1856.1,99.5 1858.3,99.5 1860.5,99.5 1862.7,99.5 1865.0,99.5 1867.2,99.5 1869.4,99.5 1871.6,99.5 1873.8,99.5 1876.0,99.5 1878.3,99.5 1880.5,99.5 1882.7,99.5 1884.9,99.5 1887.1,99.5 1889.3,99.5 1891.6,99.5 1893.8,99.5 1896.0,99.5 1898.2,99.5 1900.4,99.5 1902.6,99.5 1904.9,99.5 1907.1,99.5 1909.3,99.5 1911.5,99.5 1913.7,99.5 1915.9,99.5 1918.2,99.5 1920.4,99.5 1922.6,99.5 1924.8,99.5 1927.0,99.5 1929.2,99.5 1931.5,99.5 1933.7,99.5 1935.9,99.5 1938.1,99.5 1940.3,99.5 1942.5,99.5 1944.8,99.5 1947.0,99.5 1949.2,99.5 1951.4,99.5 1953.6,99.5 1955.8,99.5 1958.1,99.5 1960.3,99.5 1962.5,99.5 1964.7,99.5 1966.9,99.5 1969.1,99.5 1971.4,99.5 1973.6,99.5 1975.8,99.5 1978.0,99.5 1980.2,99.5 1982.4,99.5 1984.7,99.5 1986.9,99.5 1989.1,99.5 1991.3,99.5" stroke="#bf00bf" stroke-width="2.8" fill="none" stroke-linejoin="round" clip-path="url(#ctop)"/>
<path d="M220.3,504.8 222.5,504.9 224.7,505.1 226.9,505.3 229.2,505.5 231.4,505.6 233.6,505.8 235.8,506.0 238.0,506.2 240.2,506.4 242.5,506.6 244.7,506.7 246.9,506.9 249.1,507.1 251.3,507.3 253.5,507.5 255.8,507.8 258.0,508.0 260.2,508.2 262.4,508.4 264.6,508.6 266.8,508.8 269.1,509.1 271.3,509.3 273.5,509.5 275.7,509.7 277.9,510.0 280.1,510.2 282.4,510.5 284.6,510.7 286.8,511.0 289.0,511.2 291.2,511.5 293.4,511.7 295.7,512.0 297.9,512.3 300.1,512.6 302.3,512.8 304.5,513.1 306.7,513.4 309.0,513.7 311.2,514.0 313.4,514.3 315.6,514.6 317.8,514.9 320.0,515.2 322.3,515.5 324.5,515.8 326.7,516.2 328.9,516.5 331.1,516.8 333.3,517.2 335.6,517.5 337.8,517.9 340.0,518.2 342.2,518.6 344.4,518.9 346.6,519.3 348.9,519.7 351.1,520.1 353.3,520.5 355.5,520.8 357.7,521.2 359.9,521.6 362.2,522.0 364.4,522.5 366.6,522.9 368.8,523.3 371.0,523.7 373.2,524.2 375.5,524.6 377.7,525.1 379.9,525.5 382.1,526.0 384.3,526.4 386.5,526.9 388.8,527.4 391.0,527.9 393.2,528.4 395.4,528.9 397.6,529.4 399.8,529.9 402.1,530.4 404.3,531.0 406.5,531.5 408.7,532.0 410.9,532.6 413.1,533.1 415.4,533.7 417.6,534.3 419.8,534.9 422.0,535.5 424.2,536.1 426.4,536.7 428.7,537.3 430.9,537.9 433.1,538.5 435.3,539.2 437.5,539.8 439.7,540.5 442.0,541.1 444.2,541.8 446.4,542.5 448.6,543.2 450.8,543.9 453.0,544.6 455.3,545.3 457.5,546.1 459.7,546.8 461.9,547.5 464.1,548.3 466.3,549.1 468.6,549.8 470.8,550.6 473.0,551.4 475.2,552.2 477.4,553.0 479.6,553.9 481.8,554.7 484.1,555.6 486.3,556.4 488.5,557.3 490.7,558.2 492.9,559.1 495.1,560.0 497.4,560.9 499.6,561.8 501.8,562.7 504.0,563.7 506.2,564.6 508.4,565.6 510.7,566.6 512.9,567.6 515.1,568.6 517.3,569.6 519.5,570.6 521.7,571.7 524.0,572.7 526.2,573.8 528.4,574.8 530.6,575.9 532.8,577.0 535.0,578.1 537.3,579.3 539.5,580.4 541.7,581.5 543.9,582.7 546.1,583.9 548.3,585.0 550.6,586.2 552.8,587.4 555.0,588.6 557.2,589.9 559.4,591.1 561.6,592.4 563.9,593.6 566.1,594.9 568.3,596.2 570.5,597.5 572.7,598.8 574.9,600.1 577.2,601.5 579.4,602.8 581.6,604.2 583.8,605.5 586.0,606.9 588.2,608.3 590.5,609.7 592.7,611.1 594.9,612.5 597.1,613.9 599.3,615.4 601.5,616.8 603.8,618.3 606.0,619.8 608.2,621.3 610.4,622.7 612.6,624.2 614.8,625.8 617.1,627.3 619.3,628.8 621.5,630.3 623.7,631.9 625.9,633.4 628.1,635.0 630.4,636.5 632.6,638.1 634.8,639.7 637.0,641.3 639.2,642.9 641.4,644.5 643.7,646.1 645.9,647.7 648.1,649.3 650.3,650.9 652.5,652.6 654.7,654.2 657.0,655.8 659.2,657.5 661.4,659.1 663.6,660.7 665.8,662.4 668.0,664.0 670.3,665.7 672.5,667.3 674.7,669.0 676.9,670.6 679.1,672.3 681.3,674.0 683.6,675.6 685.8,677.2 688.0,678.8 690.2,680.5 692.4,682.1 694.6,683.7 696.9,685.3 699.1,687.0 701.3,688.6 703.5,690.2 705.7,691.8 707.9,693.4 710.2,695.0 712.4,696.6 714.6,698.2 716.8,699.8 719.0,701.4 721.2,703.0 723.5,704.5 725.7,706.1 727.9,707.7 730.1,709.2 732.3,710.8 734.5,712.3 736.7,713.8 739.0,715.3 741.2,716.9 743.4,718.4 745.6,719.9 747.8,721.4 750.0,722.8 752.3,724.3 754.5,725.8 756.7,727.2 758.9,728.7 761.1,730.1 763.3,731.5 765.6,733.0 767.8,734.4 770.0,735.8 772.2,737.1 774.4,738.5 776.6,739.9 778.9,741.2 781.1,742.6 783.3,743.9 785.5,745.2 787.7,746.5 789.9,747.8 792.2,749.1 794.4,750.4 796.6,751.7 798.8,752.9 801.0,754.2 803.2,755.4 805.5,756.6 807.7,757.8 809.9,759.0 812.1,760.2 814.3,761.4 816.5,762.5 818.8,763.7 821.0,764.8 823.2,765.9 825.4,767.0 827.6,768.1 829.8,769.2 832.1,770.3 834.3,771.4 836.5,772.4 838.7,773.5 840.9,774.5 843.1,775.5 845.4,776.5 847.6,777.5 849.8,778.5 852.0,779.5 854.2,780.4 856.4,781.4 858.7,782.3 860.9,783.3 863.1,784.2 865.3,785.1 867.5,786.0 869.7,786.9 872.0,787.7 874.2,788.6 876.4,789.5 878.6,790.3 880.8,791.1 883.0,792.0 885.3,792.8 887.5,793.6 889.7,794.4 891.9,795.1 894.1,795.9 896.3,796.7 898.6,797.4 900.8,798.2 903.0,798.9 905.2,799.6 907.4,800.4 909.6,801.1 911.9,801.8 914.1,802.4 916.3,803.1 918.5,803.8 920.7,804.5 922.9,805.1 925.2,805.8 927.4,806.4 929.6,807.0 931.8,807.6 934.0,808.2 936.2,808.8 938.5,809.4 940.7,810.0 942.9,810.6 945.1,811.2 947.3,811.7 949.5,812.3 951.8,812.8 954.0,813.4 956.2,813.9 958.4,814.4 960.6,815.0 962.8,815.5 965.1,816.0 967.3,816.5 969.5,817.0 971.7,817.5 973.9,817.9 976.1,818.4 978.4,818.9 980.6,819.3 982.8,819.8 985.0,820.2 987.2,820.7 989.4,821.1 991.6,821.5 993.9,822.0 996.1,822.4 998.3,822.8 1000.5,823.2 1002.7,823.6 1004.9,824.0 1007.2,824.4 1009.4,824.8 1011.6,825.1 1013.8,825.5 1016.0,825.9 1018.2,826.2 1020.5,826.6 1022.7,826.9 1024.9,827.3 1027.1,827.6 1029.3,828.0 1031.5,828.3 1033.8,828.6 1036.0,829.0 1038.2,829.3 1040.4,829.6 1042.6,829.9 1044.8,830.2 1047.1,830.5 1049.3,830.8 1051.5,831.1 1053.7,831.4 1055.9,831.7 1058.1,832.0 1060.4,832.2 1062.6,832.5 1064.8,832.8 1067.0,833.0 1069.2,833.3 1071.4,833.6 1073.7,833.8 1075.9,834.1 1078.1,834.3 1080.3,834.6 1082.5,834.8 1084.7,835.0 1087.0,835.3 1089.2,835.5 1091.4,835.7 1093.6,835.9 1095.8,836.2 1098.0,836.4 1100.3,836.6 1102.5,836.8 1104.7,837.0 1106.9,837.2 1109.1,837.4 1111.3,837.6 1113.6,837.8 1115.8,838.0 1118.0,838.2 1120.2,838.4 1122.4,838.6 1124.6,838.8 1126.9,838.9 1129.1,839.1 1131.3,839.3 1133.5,839.5 1135.7,839.6 1137.9,839.8 1140.2,840.0 1142.4,840.1 1144.6,840.3 1146.8,840.5 1149.0,840.6 1151.2,840.8 1153.5,840.9 1155.7,841.1 1157.9,841.2 1160.1,841.4 1162.3,841.5 1164.5,841.6 1166.8,841.8 1169.0,841.9 1171.2,842.1 1173.4,842.2 1175.6,842.3 1177.8,842.5 1180.1,842.6 1182.3,842.7 1184.5,842.8 1186.7,843.0 1188.9,843.1 1191.1,843.2 1193.4,843.3 1195.6,843.4 1197.8,843.5 1200.0,843.7 1202.2,843.8 1204.4,843.9 1206.7,844.0 1208.9,844.1 1211.1,844.2 1213.3,844.3 1215.5,844.4 1217.7,844.5 1220.0,844.6 1222.2,844.7 1224.4,844.8 1226.6,844.9 1228.8,845.0 1231.0,845.1 1233.2,845.2 1235.5,845.2 1237.7,845.3 1239.9,845.4 1242.1,845.5 1244.3,845.6 1246.5,845.7 1248.8,845.8 1251.0,845.8 1253.2,845.9 1255.4,846.0 1257.6,846.1 1259.8,846.1 1262.1,846.2 1264.3,846.3 1266.5,846.4 1268.7,846.4 1270.9,846.5 1273.1,846.6 1275.4,846.7 1277.6,846.7 1279.8,846.8 1282.0,846.9 1284.2,846.9 1286.4,847.0 1288.7,847.0 1290.9,847.1 1293.1,847.2 1295.3,847.2 1297.5,847.3 1299.7,847.3 1302.0,847.4 1304.2,847.5 1306.4,847.5 1308.6,847.6 1310.8,847.6 1313.0,847.7 1315.3,847.7 1317.5,847.8 1319.7,847.8 1321.9,847.9 1324.1,847.9 1326.3,848.0 1328.6,848.0 1330.8,848.1 1333.0,848.1 1335.2,848.2 1337.4,848.2 1339.6,848.3 1341.9,848.3 1344.1,848.4 1346.3,848.4 1348.5,848.4 1350.7,848.5 1352.9,848.5 1355.2,848.6 1357.4,848.6 1359.6,848.7 1361.8,848.7 1364.0,848.7 1366.2,848.8 1368.5,848.8 1370.7,848.8 1372.9,848.9 1375.1,848.9 1377.3,849.0 1379.5,849.0 1381.8,849.0 1384.0,849.1 1386.2,849.1 1388.4,849.1 1390.6,849.2 1392.8,849.2 1395.1,849.2 1397.3,849.2 1399.5,849.3 1401.7,849.3 1403.9,849.3 1406.1,849.4 1408.4,849.4 1410.6,849.4 1412.8,849.5 1415.0,849.5 1417.2,849.5 1419.4,849.5 1421.7,849.6 1423.9,849.6 1426.1,849.6 1428.3,849.6 1430.5,849.7 1432.7,849.7 1435.0,849.7 1437.2,849.7 1439.4,849.8 1441.6,849.8 1443.8,849.8 1446.0,849.8 1448.3,849.9 1450.5,849.9 1452.7,849.9 1454.9,849.9 1457.1,849.9 1459.3,850.0 1461.6,850.0 1463.8,850.0 1466.0,850.0 1468.2,850.0 1470.4,850.1 1472.6,850.1 1474.9,850.1 1477.1,850.1 1479.3,850.1 1481.5,850.2 1483.7,850.2 1485.9,850.2 1488.1,850.2 1490.4,850.2 1492.6,850.2 1494.8,850.3 1497.0,850.3 1499.2,850.3 1501.4,850.3 1503.7,850.3 1505.9,850.3 1508.1,850.4 1510.3,850.4 1512.5,850.4 1514.7,850.4 1517.0,850.4 1519.2,850.4 1521.4,850.4 1523.6,850.5 1525.8,850.5 1528.0,850.5 1530.3,850.5 1532.5,850.5 1534.7,850.5 1536.9,850.5 1539.1,850.5 1541.3,850.6 1543.6,850.6 1545.8,850.6 1548.0,850.6 1550.2,850.6 1552.4,850.6 1554.6,850.6 1556.9,850.6 1559.1,850.6 1561.3,850.7 1563.5,850.7 1565.7,850.7 1567.9,850.7 1570.2,850.7 1572.4,850.7 1574.6,850.7 1576.8,850.7 1579.0,850.7 1581.2,850.7 1583.5,850.8 1585.7,850.8 1587.9,850.8 1590.1,850.8 1592.3,850.8 1594.5,850.8 1596.8,850.8 1599.0,850.8 1601.2,850.8 1603.4,850.8 1605.6,850.8 1607.8,850.9 1610.1,850.9 1612.3,850.9 1614.5,850.9 1616.7,850.9 1618.9,850.9 1621.1,850.9 1623.4,850.9 1625.6,850.9 1627.8,850.9 1630.0,850.9 1632.2,850.9 1634.4,850.9 1636.7,850.9 1638.9,851.0 1641.1,851.0 1643.3,851.0 1645.5,851.0 1647.7,851.0 1650.0,851.0 1652.2,851.0 1654.4,851.0 1656.6,851.0 1658.8,851.0 1661.0,851.0 1663.3,851.0 1665.5,851.0 1667.7,851.0 1669.9,851.0 1672.1,851.0 1674.3,851.0 1676.6,851.1 1678.8,851.1 1681.0,851.1 1683.2,851.1 1685.4,851.1 1687.6,851.1 1689.9,851.1 1692.1,851.1 1694.3,851.1 1696.5,851.1 1698.7,851.1 1700.9,851.1 1703.2,851.1 1705.4,851.1 1707.6,851.1 1709.8,851.1 1712.0,851.1 1714.2,851.1 1716.5,851.1 1718.7,851.1 1720.9,851.1 1723.1,851.1 1725.3,851.1 1727.5,851.1 1729.8,851.2 1732.0,851.2 1734.2,851.2 1736.4,851.2 1738.6,851.2 1740.8,851.2 1743.0,851.2 1745.3,851.2 1747.5,851.2 1749.7,851.2 1751.9,851.2 1754.1,851.2 1756.3,851.2 1758.6,851.2 1760.8,851.2 1763.0,851.2 1765.2,851.2 1767.4,851.2 1769.6,851.2 1771.9,851.2 1774.1,851.2 1776.3,851.2 1778.5,851.2 1780.7,851.2 1782.9,851.2 1785.2,851.2 1787.4,851.2 1789.6,851.2 1791.8,851.2 1794.0,851.2 1796.2,851.2 1798.5,851.2 1800.7,851.2 1802.9,851.2 1805.1,851.2 1807.3,851.3 1809.5,851.3 1811.8,851.3 1814.0,851.3 1816.2,851.3 1818.4,851.3 1820.6,851.3 1822.8,851.3 1825.1,851.3 1827.3,851.3 1829.5,851.3 1831.7,851.3 1833.9,851.3 1836.1,851.3 1838.4,851.3 1840.6,851.3 1842.8,851.3 1845.0,851.3 1847.2,851.3 1849.4,851.3 1851.7,851.3 1853.9,851.3 1856.1,851.3 1858.3,851.3 1860.5,851.3 1862.7,851.3 1865.0,851.3 1867.2,851.3 1869.4,851.3 1871.6,851.3 1873.8,851.3 1876.0,851.3 1878.3,851.3 1880.5,851.3 1882.7,851.3 1884.9,851.3 1887.1,851.3 1889.3,851.3 1891.6,851.3 1893.8,851.3 1896.0,851.3 1898.2,851.3 1900.4,851.3 1902.6,851.3 1904.9,851.3 1907.1,851.3 1909.3,851.3 1911.5,851.3 1913.7,851.3 1915.9,851.3 1918.2,851.3 1920.4,851.3 1922.6,851.3 1924.8,851.3 1927.0,851.3 1929.2,851.3 1931.5,851.3 1933.7,851.3 1935.9,851.3 1938.1,851.3 1940.3,851.3 1942.5,851.3 1944.8,851.3 1947.0,851.3 1949.2,851.3 1951.4,851.3 1953.6,851.3 1955.8,851.3 1958.1,851.3 1960.3,851.3 1962.5,851.3 1964.7,851.3 1966.9,851.3 1969.1,851.3 1971.4,851.3 1973.6,851.3 1975.8,851.3 1978.0,851.4 1980.2,851.4 1982.4,851.4 1984.7,851.4 1986.9,851.4 1989.1,851.4 1991.3,851.4" stroke="#bf00bf" stroke-width="2.8" fill="none" stroke-linejoin="round" clip-path="url(#cbot)"/>
<path d="M905 96.6H1991.0" stroke="#e28ae2" stroke-width="2.6" fill="none"/>
<path d="M222.0 469.4H1992.5" stroke="#767676" stroke-width="3" fill="none" stroke-linecap="square"/>
<path d="M1992.5 57.4V469.4" stroke="#8a8a8a" stroke-width="3" fill="none" stroke-linecap="square"/>
<path d="M222.0 469.4V57.4H1992.5" stroke="#5f5f5f" stroke-width="3" fill="none" stroke-linecap="square"/>
<path d="M222.0 857.2H1992.5" stroke="#959595" stroke-width="3" fill="none" stroke-linecap="square"/>
<path d="M1992.5 490.4V857.2" stroke="#8a8a8a" stroke-width="3" fill="none" stroke-linecap="square"/>
<path d="M222.0 857.2V490.4H1992.5" stroke="#5f5f5f" stroke-width="3" fill="none" stroke-linecap="square"/>
<text x="215.5" y="120.8" font-size="69" text-anchor="end">0</text>
<text x="215.5" y="286.3" font-size="69" text-anchor="end">-40</text>
<text x="215.5" y="450.3" font-size="69" text-anchor="end">-80</text>
<text x="215.5" y="518.0" font-size="69" text-anchor="end">90</text>
<text x="215.5" y="695.5" font-size="69" text-anchor="end">45</text>
<text x="215.5" y="873.0" font-size="69" text-anchor="end">0</text>
<text x="168.9" y="942" font-size="69">10</text>
<text x="529.8" y="942" font-size="69">10</text>
<text x="883.8" y="942" font-size="69">10</text>
<text x="1238.2" y="942" font-size="69">10</text>
<text x="1592.1" y="942" font-size="69">10</text>
<text x="1946.4" y="942" font-size="69">10</text>
<text x="233.5" y="900" font-size="44" style="stroke-width:0.8px">-1</text>
<text x="596.0" y="900" font-size="44" style="stroke-width:0.8px">0</text>
<text x="953.8" y="900" font-size="44" style="stroke-width:0.8px">1</text>
<text x="1302.8" y="900" font-size="44" style="stroke-width:0.8px">2</text>
<text x="1656.7" y="900" font-size="44" style="stroke-width:0.8px">3</text>
<text x="2011.0" y="900" font-size="44" style="stroke-width:0.8px">4</text>
<text x="920.6" y="999.2" font-size="61.5" textLength="349" lengthAdjust="spacingAndGlyphs">Frequency/Hz</text>
<text transform="translate(111.3 443.5) rotate(-90)" font-size="61.5" textLength="351" lengthAdjust="spacingAndGlyphs">Magnitude/dB</text>
<text transform="translate(111.0 804.2) rotate(-90)" font-size="61.5" textLength="250.5" lengthAdjust="spacingAndGlyphs">Phase/deg</text>
<path d="M610.1 538.2L559.5 566.2" stroke="#000" stroke-width="3.0" fill="none"/>
<path d="M539.4 577.4L566.8 575.3L555.7 555.2Z" fill="#000"/>
<path d="M828.8 579.7L778.0 608.8" stroke="#000" stroke-width="3.0" fill="none"/>
<path d="M758.0 620.2L785.4 617.8L774.0 597.8Z" fill="#000"/>
<path d="M1090.9 613.9L1041.5 642.5" stroke="#000" stroke-width="3.0" fill="none"/>
<path d="M1021.6 654.0L1049.0 651.4L1037.5 631.5Z" fill="#000"/>
<path d="M1388.4 655.5L1338.8 684.6" stroke="#000" stroke-width="3.0" fill="none"/>
<path d="M1319.0 696.3L1346.4 693.5L1334.7 673.7Z" fill="#000"/>
<path d="M1721.0 706.0L1669.9 735.9" stroke="#000" stroke-width="3.0" fill="none"/>
<path d="M1650.0 747.5L1677.4 744.8L1665.8 725.0Z" fill="#000"/>
<path d="M1193.9 797.3L1247.9 821.8" stroke="#000" stroke-width="3.0" fill="none"/>
<path d="M1267.5 830.7L1250.6 811.0L1241.6 831.0Z" fill="#000"/>
<path d="M1380.2 314.4L1307.7 314.4" stroke="#555" stroke-width="4.2" fill="none"/>
<path d="M1283.7 314.4L1309.7 326.4L1309.7 302.4Z" fill="#000"/>
<text transform="translate(616.1 548.9) skewX(-16)" font-size="63" font-style="italic" style="stroke-width:0.6px">f</text>
<text x="640.0" y="555.9" font-size="37" style="stroke-width:0.7px">L</text>
<text transform="translate(664.7 544.4) scale(1.09 0.84)" font-size="61.5">=</text>
<text x="701.0" y="548.4" font-size="61.5">2Hz</text>
<text transform="translate(831.7 593.9) skewX(-16)" font-size="63" font-style="italic" style="stroke-width:0.6px">f</text>
<text x="856.7" y="600.9" font-size="37" style="stroke-width:0.7px">L</text>
<text transform="translate(881.1 589.4) scale(1.09 0.84)" font-size="61.5">=</text>
<text x="920.2" y="593.4" font-size="61.5">5Hz</text>
<text transform="translate(1096.8 623.7) skewX(-16)" font-size="63" font-style="italic" style="stroke-width:0.6px">f</text>
<text x="1123.0" y="630.7" font-size="37" style="stroke-width:0.7px">L</text>
<text transform="translate(1147.7 619.2) scale(1.09 0.84)" font-size="61.5">=</text>
<text x="1184.2" y="623.2" font-size="61.5">20Hz</text>
<text transform="translate(1390.5 669.9) skewX(-16)" font-size="63" font-style="italic" style="stroke-width:0.6px">f</text>
<text x="1417.7" y="676.9" font-size="37" style="stroke-width:0.7px">L</text>
<text transform="translate(1440.5 665.4) scale(1.09 0.84)" font-size="61.5">=</text>
<text x="1479.0" y="669.4" font-size="61.5">100Hz</text>
<text transform="translate(1725.7 719.5) skewX(-16)" font-size="63" font-style="italic" style="stroke-width:0.6px">f</text>
<text x="1751.0" y="726.5" font-size="37" style="stroke-width:0.7px">L</text>
<text transform="translate(1774.7 715.0) scale(1.09 0.84)" font-size="61.5">=</text>
<text x="1813.2" y="719.0" font-size="61.5">500Hz</text>
<text x="1103.4" y="803" font-size="62">2.8°</text>
<circle cx="1283.3" cy="838.8" r="10.5" fill="none" stroke="#00bfbf" stroke-width="2.8"/>
<text x="1388.4" y="337" font-size="62">2</text>
<text transform="translate(1412.0 337.5) skewX(-16)" font-size="60.5" font-style="italic" style="stroke-width:0.6px">f</text>
<text x="1438" y="345" font-size="37" style="stroke-width:0.7px">o</text>
</svg></body></html>
